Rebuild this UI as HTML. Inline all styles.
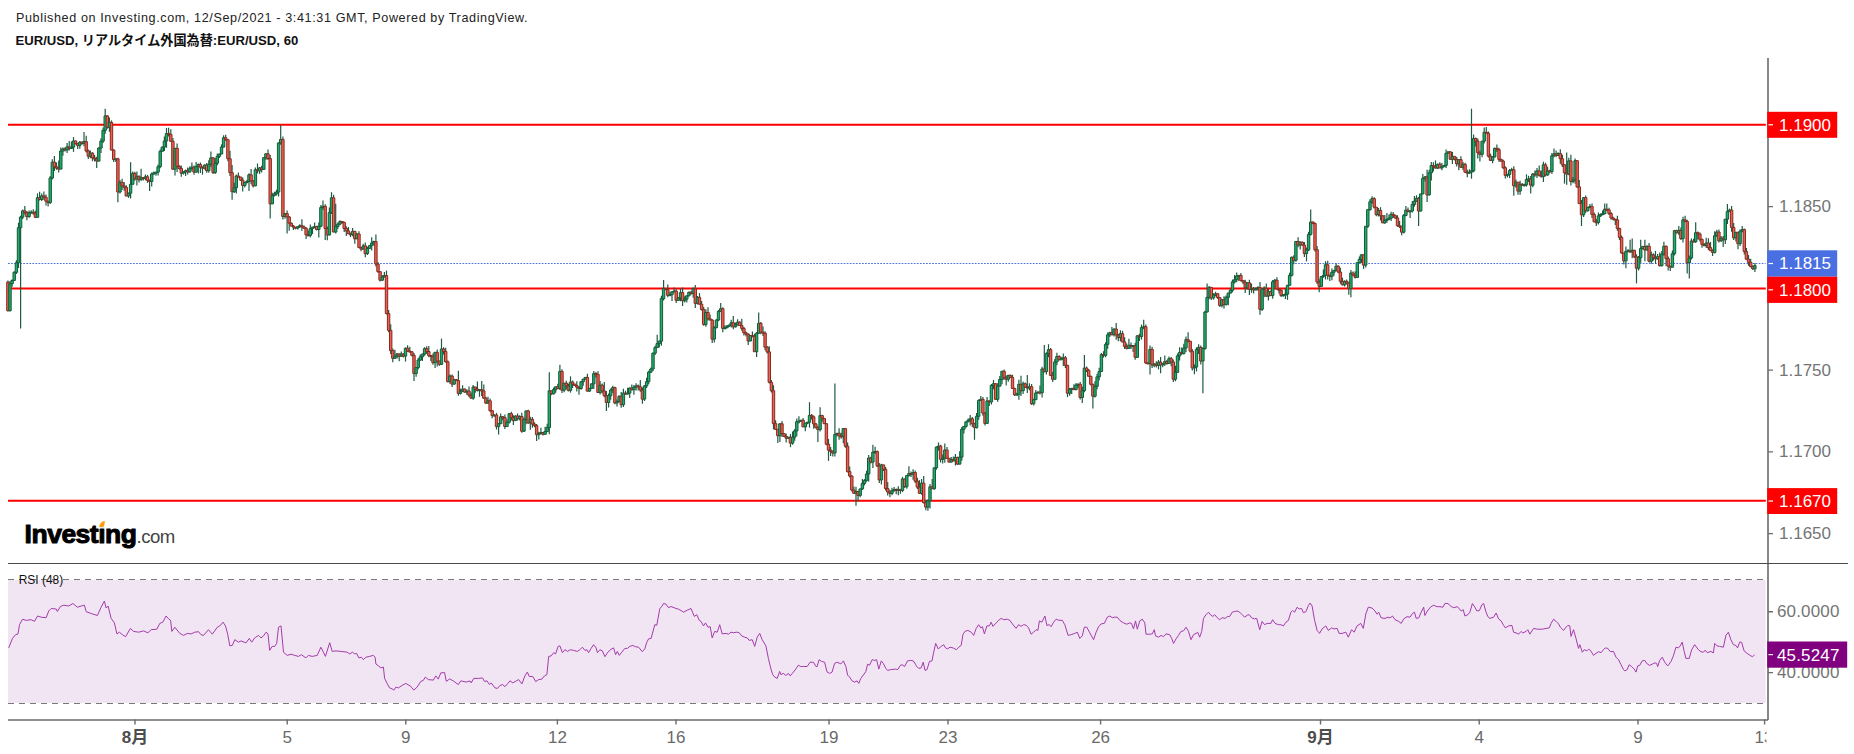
<!DOCTYPE html>
<html lang="ja"><head><meta charset="utf-8"><title>EUR/USD</title>
<style>
html,body{margin:0;padding:0;background:#fff}
body{width:1854px;height:754px;overflow:hidden}
.w{stroke:#1f5b42;stroke-width:1.2;fill:none}
.g{fill:#1bb06d;stroke:#165a3a;stroke-width:1}
.r{fill:#ee6052;stroke:#872a20;stroke-width:1}
.ax{font-family:"Liberation Sans","Noto Sans CJK JP",sans-serif}
</style></head><body>
<svg width="1854" height="754" viewBox="0 0 1854 754" style="display:block">
<rect width="1854" height="754" fill="#fff"/>
<rect x="8" y="580" width="1757.6" height="123" fill="#f2e5f3"/>
<path d="M8 579.5H1765.6M8 703.5H1765.6" stroke="#787878" stroke-width="1" stroke-dasharray="6 5" fill="none"/>
<path d="M8.7 647.9 L12.5 638.4 L15.5 634.7 L18 633.9 L19.5 624.7 L22.5 619.2 L26.2 620.4 L31.2 619.7 L34.5 621.4 L37.5 616 L41.2 617.2 L46.2 617.7 L48.7 611 L51.2 608.5 L56.2 609 L57.4 611.5 L60.4 606.5 L63.7 605.2 L68.7 606 L72.9 603.5 L77.4 607.2 L81.2 606 L84.4 605.2 L86.2 611.7 L91.2 613.5 L97.4 615.5 L101.1 607.2 L104.4 601 L106.1 608 L108.1 606 L111.1 618.4 L114.4 622.9 L116.9 633.9 L119.4 632.2 L122.4 634.7 L125.6 636.7 L130.4 628.4 L133.6 631.4 L138.6 632.2 L143.6 630.9 L147.9 632.9 L151.1 629.7 L156.8 629.2 L159.8 623.4 L162.8 622.2 L166.1 616 L168.6 618.9 L170.6 620.4 L171.8 631.4 L174.8 627.2 L179.8 633.4 L183.6 635.4 L187.3 633.4 L191.1 633.9 L194.8 632.2 L198.6 631.7 L201 634.7 L203.5 635.4 L208.5 629.7 L212.3 634.2 L217.3 627.2 L219.8 625.9 L223 622.2 L225.5 625.9 L227.8 634.7 L229.8 645.9 L232.3 645.4 L234.8 639.7 L238.5 642.2 L241 640.9 L246 642.9 L249.3 638.4 L251.7 642.2 L254.7 637.9 L258.5 635.4 L261 637.9 L263.5 635.9 L266 632.2 L268 633.9 L269.7 650.4 L272.2 646.4 L274.7 646.4 L276.7 643.4 L278.5 627.2 L281 625.9 L283.5 652.2 L287.2 655.4 L291 654.2 L294.7 655.4 L298.5 656.4 L301.4 654.7 L305.9 657.9 L308.4 655.4 L312.2 656.4 L317.2 655.4 L320.9 647.2 L323.4 652.2 L325.4 656.4 L329.7 642.7 L332.2 651.4 L335.9 650.9 L340.9 651.4 L347.2 652.2 L349.7 653.9 L352.6 652.2 L354.6 653.9 L356.6 653.4 L358.9 657.9 L361.4 657.2 L363.4 659.7 L365.9 657.2 L369.6 656.4 L373.4 655.4 L375.1 657.2 L375.9 663.9 L378.4 665.9 L380.9 667.9 L383.4 667.1 L384.6 678.4 L387.1 683.4 L389.6 687.9 L392.1 688.9 L393.9 690.1 L395.9 687.1 L398.4 687.9 L402.1 685.4 L405.8 683.4 L410.8 686.4 L413.8 690.1 L417.1 687.1 L420.8 681.4 L423.3 680.4 L425.3 677.1 L428.3 679.6 L433.3 680.1 L435.8 675.9 L438.3 679.1 L440.8 672.9 L444.6 672.6 L446.3 681.4 L449.6 678.9 L453.3 680.9 L458.3 684.6 L460.8 680.9 L461.2 680.9 L466.2 682.1 L470 680.9 L471.2 682.9 L473.7 678.4 L478.7 678.4 L482.5 677.9 L484.5 681.4 L487 680.9 L489.5 684.6 L491.2 682.9 L495 687.9 L497.5 688.4 L500 685.4 L502.5 684.6 L505 686.6 L507.9 683.4 L509.9 680.9 L512.9 682.9 L516.2 680.9 L518.7 679.6 L521.9 683.9 L524.9 675.9 L527.4 672.1 L529.2 676.4 L532.9 676.6 L535.7 681.6 L538.7 679.6 L541.9 679.1 L544.4 675.9 L546.9 674.6 L548.7 656.4 L551.2 655.9 L553.7 652.7 L555.6 653.9 L558.1 646.4 L559.9 645.9 L562.4 652.7 L564.9 649.7 L567.4 651.4 L570.4 649.7 L573.6 650.4 L577.4 651.4 L579.9 649.7 L582.4 647.2 L584.9 650.4 L586.9 649.7 L588.6 652.7 L591.1 648.4 L593.6 644.7 L596.1 647.9 L597.4 652.7 L599.9 649.7 L602.4 650.9 L604.9 656.7 L607.8 652.2 L611.1 649.2 L613.6 647.9 L615.6 654.7 L617.3 651.4 L619.3 655.4 L621.8 652.2 L624.8 648.4 L627.3 648.4 L629.8 646.4 L632.8 645.4 L635.3 646.7 L638.6 647.2 L642.3 651.7 L644.8 648.9 L646.8 642.2 L648.6 638.9 L651.1 638.4 L654.8 624.7 L656.8 625.2 L659.8 608.5 L661.8 606.7 L663.5 603.5 L666 604.2 L668.5 607.7 L671 606.5 L674.8 608 L678.5 609.2 L681 610.5 L683.5 612.2 L687.3 610.2 L691 608.5 L694.3 616.4 L696.8 614.7 L699.3 620.4 L701 621.4 L703.5 625.9 L705.5 622.9 L708 627.2 L710.2 626.7 L712.2 637.9 L714.7 631.4 L717.2 632.2 L719.7 624.7 L722.2 633.9 L726 633.4 L728.5 634.2 L731 632.2 L733.5 632.7 L736.7 632.2 L739.2 632.7 L741.7 635.9 L744.7 637.2 L747.2 637.9 L749.2 640.4 L752.2 639.7 L754.7 646.4 L757.2 637.2 L759.7 633.4 L762.2 639.7 L765.9 645.9 L768.4 658.4 L770.9 668.9 L772.7 674.6 L774.7 677.1 L777.2 678.4 L779.7 671.4 L780.9 674.6 L783.4 673.4 L785.9 675.4 L788.4 673.4 L790.2 675.9 L793.4 672.1 L795.9 668.9 L798.4 665.2 L800.9 666.6 L803.4 666.4 L807.1 666.6 L810.1 662.2 L813.4 662.2 L815.9 666.4 L817.1 666.6 L819.1 659.7 L821.6 661.4 L824.6 662.2 L827.1 672.1 L829.6 673.4 L832.1 672.1 L834.6 663.4 L837.1 662.2 L840.9 663.9 L843.4 660.9 L845.9 666.6 L847.6 675.1 L849.6 677.1 L852.1 680.9 L854.6 682.1 L857.1 680.9 L858.8 683.4 L860.8 678.4 L863.3 675.1 L865.8 671.6 L867.6 664.2 L869.6 665.2 L872.1 659.7 L874.6 660.4 L876.6 659.7 L878.8 669.1 L881.3 660.9 L883.3 663.4 L885.8 668.4 L887.6 670.4 L890.8 669.6 L895.8 669.1 L897.8 669.6 L900.3 665.4 L902.1 664.7 L904.6 666.6 L907.5 660.9 L910.8 660.4 L913.3 660.9 L915.8 664.7 L916.2 665.9 L918.7 668.4 L921.2 667.9 L923.2 662.2 L925 670.4 L927 669.6 L929.5 661.4 L932 660.9 L933.7 652.2 L935.7 643.4 L938.2 648.9 L941.2 646.4 L943.7 644.7 L945.5 647.9 L947.5 648.9 L950 647.2 L953 647.9 L956.2 649.7 L958.7 647.2 L961.2 645.4 L962.9 634.7 L964.9 631.4 L967.9 630.4 L971.2 632.2 L973.7 635.4 L976.2 628.4 L978.7 624.7 L980.7 627.9 L982.4 626.7 L984.4 633.9 L986.9 625.9 L989.4 625.9 L991.2 622.2 L992.9 626.4 L996.2 622.9 L998.7 620.2 L1001.2 618.4 L1003.7 619.7 L1007.4 619.2 L1009.9 620.4 L1012.4 623.9 L1016.1 628.4 L1018.6 624.7 L1021.1 626.4 L1023.6 624.7 L1026.1 625.2 L1028.6 627.9 L1031.1 634.2 L1033.6 632.2 L1036.1 629.7 L1037.9 630.4 L1039.4 620.9 L1041.9 622.2 L1044.9 616 L1046.9 625.4 L1049.4 624.7 L1051.1 626.7 L1053.6 622.2 L1056.1 619.2 L1058.6 620.2 L1062.3 620.4 L1064.8 624.7 L1068.1 635.4 L1071.1 634.7 L1074.8 633.4 L1077.3 632.2 L1079.8 638.4 L1082.3 635.9 L1084.3 627.2 L1086.8 627.2 L1089.8 632.9 L1093.6 639.7 L1096.1 632.2 L1098.6 626.7 L1101.1 623.9 L1104.3 623.4 L1107.3 617.2 L1109.8 616 L1112.3 617.7 L1114.8 617.2 L1117.3 617.2 L1119.8 620.4 L1123.5 622.9 L1126.8 624.2 L1129.8 622.9 L1131.5 623.4 L1133.5 628.9 L1135.5 620.9 L1137.3 629.2 L1139.8 620.9 L1142.3 619.2 L1144.8 622.9 L1146 634.2 L1149.8 634.2 L1152.3 633.9 L1154.3 629.7 L1155.5 635.9 L1158.5 637.2 L1161 635.4 L1163.5 636.7 L1166 633.9 L1169.7 634.7 L1171.7 638.4 L1173.5 643.4 L1176 638.9 L1178.5 635.4 L1181 631.4 L1183.5 630.9 L1186 627.2 L1188.5 631.4 L1191 639.7 L1193.5 634.7 L1196 633.4 L1197.7 632.2 L1199.7 637.2 L1201.7 631.4 L1203.5 618.4 L1206 614.7 L1208.5 612.2 L1210.9 615.2 L1212.9 616.4 L1214.7 614.7 L1217.2 617.7 L1219.7 619.7 L1222.2 617.7 L1225.2 618.4 L1227.2 616.7 L1229.7 616.4 L1232.2 612.2 L1234.7 611.5 L1237.2 611 L1239.7 612.2 L1242.2 614.7 L1244.7 617.2 L1247.2 615.2 L1249.2 614.7 L1251.7 617.9 L1254.2 618.9 L1256.7 618.4 L1259.7 629.7 L1262.1 621.4 L1264.6 624.7 L1267.1 623.4 L1270.9 623.4 L1272.6 619.7 L1275.1 623.4 L1278.4 624.7 L1280.9 624.7 L1283.4 625.9 L1285.9 622.2 L1288.4 620.4 L1290.9 612.2 L1292.6 610.5 L1294.6 612.2 L1297.1 607.2 L1299.1 609 L1301.6 608.5 L1303.4 612.7 L1305.9 611.7 L1308.4 605.5 L1310.1 603 L1312.1 606 L1314.6 620.4 L1317.1 630.4 L1319.6 633.4 L1322.1 628.9 L1325.8 625.9 L1328.3 630.4 L1331.6 627.9 L1334.1 628.9 L1337.1 628.4 L1339.1 633.4 L1342.1 633.4 L1345.8 632.2 L1348.3 637.2 L1351.6 629.7 L1354.1 632.2 L1357.1 625.9 L1360.8 623.4 L1363.3 628.4 L1365.8 614 L1368.3 607.2 L1372 608 L1375 611 L1377 614.2 L1378.7 612.2 L1381.2 617.9 L1385 618.4 L1388 617.2 L1390 617.9 L1392.5 616 L1395 619.7 L1398.7 621.4 L1401.2 623.4 L1403.7 618.9 L1407 616.7 L1410 617.2 L1412.5 613.5 L1414.5 612.2 L1416.2 618.4 L1418.7 617.9 L1421.2 612.2 L1423.7 607.2 L1424.9 615.5 L1427.4 611 L1430.4 607.2 L1433.7 605.2 L1436.9 606.7 L1439.9 606.7 L1442.9 607.2 L1444.9 603.5 L1447.9 603.5 L1451.2 606.5 L1453.7 607.7 L1457.4 606.7 L1461.2 611 L1463.2 609.7 L1464.9 616 L1467.9 614.7 L1469.9 612.2 L1472.4 603.5 L1474.9 607.2 L1476.9 611 L1479.4 610.5 L1481.9 604.7 L1483.6 603.5 L1486.1 612.2 L1487.9 616.7 L1489.9 618.4 L1493.6 617.2 L1496.1 613 L1498.6 618.9 L1501.1 620.9 L1503.6 625.4 L1505.4 627.9 L1508.6 625.9 L1511.9 625.4 L1513.6 632.2 L1516.1 632.9 L1518.6 634.2 L1521.1 631.4 L1522.8 632.9 L1526.1 631.4 L1527.8 629.7 L1529.8 634.2 L1533.6 628.4 L1537.3 629.2 L1542.3 629.2 L1546.1 628.4 L1549.3 627.9 L1551.1 623.4 L1553.6 619.2 L1556.1 621.4 L1558.6 623.9 L1560.3 627.2 L1563.6 630.4 L1566 627.2 L1567.8 625.4 L1569.8 625.9 L1571 636.4 L1573.5 629.7 L1576 638.4 L1578.5 648.4 L1579.8 644.7 L1582.3 652.2 L1584.3 649.7 L1586.8 650.9 L1588.5 649.2 L1590.5 650.4 L1593.5 655.4 L1596 653.4 L1598.5 651.7 L1601 652.7 L1603.5 649.7 L1605.3 647.9 L1607.8 648.4 L1610.3 651.7 L1613.5 651.4 L1616 657.2 L1618.5 659.7 L1621 664.7 L1623.5 669.6 L1624.7 670.9 L1627.2 669.6 L1629.2 664.7 L1631.7 666.6 L1634.2 669.1 L1636 672.1 L1637.7 665.9 L1639.7 665.4 L1642.2 660.9 L1644.7 660.4 L1647.2 663.9 L1649.7 665.4 L1652.2 664.2 L1654.7 662.9 L1656.7 663.4 L1657.7 666.6 L1659.7 660.4 L1662.2 657.2 L1664.7 662.2 L1667.7 665.9 L1670.9 661.7 L1673.4 655.9 L1675.9 647.2 L1678.4 647.9 L1680.2 645.9 L1682.2 642.2 L1684.2 651.4 L1685.9 658.4 L1689.2 658.4 L1691.7 649.7 L1694.7 644.7 L1698.4 649.7 L1700.9 651.7 L1703.4 652.2 L1705.2 650.2 L1707.2 652.7 L1710.9 651.4 L1713.4 652.9 L1714.7 643.4 L1717.1 645.9 L1719.6 646.4 L1723.4 647.2 L1725.9 635.4 L1728.4 632.2 L1730.9 639.7 L1733.4 644.7 L1735.9 645.4 L1737.6 647.9 L1739.6 642.2 L1741.6 642.2 L1744.1 650.9 L1747.1 653.4 L1750.9 655.9 L1752.6 656.7 L1754.6 654.7" fill="none" stroke="#a23cab" stroke-width="1" stroke-linejoin="round"/>
<path d="M8 263.5H1765.6" stroke="#4a6fe3" stroke-width="1.1" stroke-dasharray="1.7 1.35" fill="none"/>
<path d="M8 124.8H1765.8M8 288.5H1765.8M8 500.7H1765.8" stroke="#ff0000" stroke-width="2" fill="none"/>
<g><path class="w" d="M7.9 280.5V311.4"/><path class="r" d="M6.7 282h2.4V310.7h-2.4z"/><path class="w" d="M10 280.9V311.4"/><path class="g" d="M8.8 283.7h2.4V310.7h-2.4z"/><path class="w" d="M12.1 279.2V286.8"/><path class="g" d="M10.9 280.5h2.4V283.7h-2.4z"/><path class="w" d="M14.2 271.2V281"/><path class="g" d="M13 272.3h2.4V280.5h-2.4z"/><path class="w" d="M16.4 260.2V273.9"/><path class="g" d="M15.2 262.8h2.4V272.3h-2.4z"/><path class="w" d="M18.5 222.7V268"/><path class="g" d="M17.3 227.7h2.4V262.8h-2.4z"/><path class="w" d="M20.6 215.7V328.4"/><path class="g" d="M19.4 217.1h2.4V227.7h-2.4z"/><path class="w" d="M22.7 209.4V219"/><path class="g" d="M21.5 210.9h2.4V217.1h-2.4z"/><path class="w" d="M24.8 206V214.5"/><path class="r" d="M23.6 210.9h2.4V212.6h-2.4z"/><path class="w" d="M26.9 210.9V220.2"/><path class="r" d="M25.7 212.6h2.4V216.6h-2.4z"/><path class="w" d="M29.1 210.6V217.7"/><path class="g" d="M27.9 212.8h2.4V216.6h-2.4z"/><path class="w" d="M31.2 210.2V213.5"/><path class="g" d="M30 212.1h2.4V213.1h-2.4z"/><path class="w" d="M33.3 209.2V214.7"/><path class="r" d="M32.1 212.1h2.4V213.1h-2.4z"/><path class="w" d="M35.4 210.7V218"/><path class="r" d="M34.2 213.1h2.4V217.3h-2.4z"/><path class="w" d="M37.5 193.3V217.4"/><path class="g" d="M36.3 197.7h2.4V217.3h-2.4z"/><path class="w" d="M39.6 191.7V200.5"/><path class="r" d="M38.4 197.7h2.4V199.5h-2.4z"/><path class="w" d="M41.7 193.4V201"/><path class="g" d="M40.5 195.9h2.4V199.5h-2.4z"/><path class="w" d="M43.9 191.5V199.7"/><path class="r" d="M42.7 195.9h2.4V197.2h-2.4z"/><path class="w" d="M46 194.4V205.5"/><path class="r" d="M44.8 197.2h2.4V201.2h-2.4z"/><path class="w" d="M48.1 200.9V206.5"/><path class="r" d="M46.9 201.2h2.4V202.6h-2.4z"/><path class="w" d="M50.2 176.1V204"/><path class="g" d="M49 178h2.4V202.6h-2.4z"/><path class="w" d="M52.3 159.3V179.6"/><path class="g" d="M51.1 162.2h2.4V178h-2.4z"/><path class="w" d="M54.4 156.1V171.1"/><path class="r" d="M53.2 162.2h2.4V166.8h-2.4z"/><path class="w" d="M56.5 162.4V169.8"/><path class="r" d="M55.3 166.8h2.4V168.1h-2.4z"/><path class="w" d="M58.7 160.6V172.4"/><path class="r" d="M57.5 168.1h2.4V169.1h-2.4z"/><path class="w" d="M60.8 147.6V169.5"/><path class="g" d="M59.6 151h2.4V169h-2.4z"/><path class="w" d="M62.9 147.6V155.7"/><path class="g" d="M61.7 148.9h2.4V151h-2.4z"/><path class="w" d="M65 147.3V151.6"/><path class="r" d="M63.8 148.9h2.4V150h-2.4z"/><path class="w" d="M67.1 143.1V152.9"/><path class="g" d="M65.9 146.9h2.4V150h-2.4z"/><path class="w" d="M69.2 141V150.4"/><path class="r" d="M68 146.9h2.4V148.5h-2.4z"/><path class="w" d="M71.4 141.6V149.1"/><path class="g" d="M70.2 147.1h2.4V148.5h-2.4z"/><path class="w" d="M73.5 137.1V151.9"/><path class="g" d="M72.3 141h2.4V147.1h-2.4z"/><path class="w" d="M75.6 140.6V144.6"/><path class="r" d="M74.4 141h2.4V143.6h-2.4z"/><path class="w" d="M77.7 143.2V149"/><path class="r" d="M76.5 143.6h2.4V145.6h-2.4z"/><path class="w" d="M79.8 140.9V148.7"/><path class="g" d="M78.6 142.2h2.4V145.6h-2.4z"/><path class="w" d="M81.9 141.5V144.8"/><path class="r" d="M80.7 142.2h2.4V143.4h-2.4z"/><path class="w" d="M84 131.9V146.2"/><path class="g" d="M82.8 141.6h2.4V143.4h-2.4z"/><path class="w" d="M86.2 135.8V152.5"/><path class="r" d="M85 141.6h2.4V150.9h-2.4z"/><path class="w" d="M88.3 149.5V159"/><path class="r" d="M87.1 150.9h2.4V156.2h-2.4z"/><path class="w" d="M90.4 150.5V158.3"/><path class="g" d="M89.2 153.2h2.4V156.2h-2.4z"/><path class="w" d="M92.5 152.1V161.2"/><path class="r" d="M91.3 153.2h2.4V158h-2.4z"/><path class="w" d="M94.6 154.9V161.6"/><path class="r" d="M93.4 158h2.4V159h-2.4z"/><path class="w" d="M96.7 156.7V168.1"/><path class="r" d="M95.5 159h2.4V161h-2.4z"/><path class="w" d="M98.8 147.2V161.7"/><path class="g" d="M97.6 148h2.4V161h-2.4z"/><path class="w" d="M101 138.3V153"/><path class="g" d="M99.8 141.1h2.4V148h-2.4z"/><path class="w" d="M103.1 127.6V143.1"/><path class="g" d="M101.9 130.4h2.4V141.1h-2.4z"/><path class="w" d="M105.2 108.7V133.8"/><path class="g" d="M104 115.9h2.4V130.4h-2.4z"/><path class="w" d="M107.3 115.3V128.8"/><path class="r" d="M106.1 115.9h2.4V127.3h-2.4z"/><path class="w" d="M109.4 117.5V131.8"/><path class="g" d="M108.2 122.4h2.4V127.3h-2.4z"/><path class="w" d="M111.5 120.4V150.3"/><path class="r" d="M110.3 122.4h2.4V150.1h-2.4z"/><path class="w" d="M113.7 149.3V162"/><path class="r" d="M112.5 150.1h2.4V159.6h-2.4z"/><path class="w" d="M115.8 158.7V162.1"/><path class="g" d="M114.6 158.8h2.4V159.8h-2.4z"/><path class="w" d="M117.9 157.8V202.2"/><path class="r" d="M116.7 158.8h2.4V192h-2.4z"/><path class="w" d="M120 180.1V193.5"/><path class="g" d="M118.8 182.4h2.4V192h-2.4z"/><path class="w" d="M122.1 178.8V190.1"/><path class="r" d="M120.9 182.4h2.4V185.9h-2.4z"/><path class="w" d="M124.2 181.9V190.7"/><path class="r" d="M123 185.9h2.4V187.3h-2.4z"/><path class="w" d="M126.3 185.3V196.3"/><path class="r" d="M125.1 187.3h2.4V196h-2.4z"/><path class="w" d="M128.5 192.6V197.9"/><path class="g" d="M127.3 193.2h2.4V196h-2.4z"/><path class="w" d="M130.6 162.3V198.5"/><path class="g" d="M129.4 184.3h2.4V193.2h-2.4z"/><path class="w" d="M132.7 171.5V184.6"/><path class="g" d="M131.5 173.4h2.4V184.3h-2.4z"/><path class="w" d="M134.8 171.7V180.7"/><path class="r" d="M133.6 173.4h2.4V179h-2.4z"/><path class="w" d="M136.9 171.5V185.6"/><path class="g" d="M135.7 176.3h2.4V179h-2.4z"/><path class="w" d="M139 175.6V182.4"/><path class="r" d="M137.8 176.3h2.4V179.7h-2.4z"/><path class="w" d="M141.1 168.8V180.7"/><path class="g" d="M139.9 177.5h2.4V179.7h-2.4z"/><path class="w" d="M143.3 177.4V180.5"/><path class="r" d="M142.1 177.5h2.4V178.5h-2.4z"/><path class="w" d="M145.4 174.6V180.2"/><path class="g" d="M144.2 176.8h2.4V178.2h-2.4z"/><path class="w" d="M147.5 174.8V182.9"/><path class="r" d="M146.3 176.8h2.4V180.4h-2.4z"/><path class="w" d="M149.6 179.6V191"/><path class="r" d="M148.4 180.4h2.4V181.5h-2.4z"/><path class="w" d="M151.7 172.4V186.4"/><path class="g" d="M150.5 174h2.4V181.5h-2.4z"/><path class="w" d="M153.8 171.4V174.9"/><path class="g" d="M152.6 172.9h2.4V174h-2.4z"/><path class="w" d="M156 172V175.7"/><path class="g" d="M154.8 172.1h2.4V173.1h-2.4z"/><path class="w" d="M158.1 164.4V175.5"/><path class="g" d="M156.9 166.7h2.4V172.1h-2.4z"/><path class="w" d="M160.2 149.4V168.3"/><path class="g" d="M159 151.3h2.4V166.7h-2.4z"/><path class="w" d="M162.3 146.5V151.5"/><path class="g" d="M161.1 147.1h2.4V151.3h-2.4z"/><path class="w" d="M164.4 136.4V151.1"/><path class="g" d="M163.2 141h2.4V147.1h-2.4z"/><path class="w" d="M166.5 127.9V147.7"/><path class="g" d="M165.3 133.5h2.4V141h-2.4z"/><path class="w" d="M168.6 127.8V136.5"/><path class="r" d="M167.4 133.5h2.4V134.5h-2.4z"/><path class="w" d="M170.8 129.3V141.3"/><path class="r" d="M169.6 134.4h2.4V141.3h-2.4z"/><path class="w" d="M172.9 137.9V169.7"/><path class="r" d="M171.7 141.3h2.4V169.2h-2.4z"/><path class="w" d="M175 147.9V175.6"/><path class="g" d="M173.8 148.3h2.4V169.2h-2.4z"/><path class="w" d="M177.1 143.6V171.9"/><path class="r" d="M175.9 148.3h2.4V166.3h-2.4z"/><path class="w" d="M179.2 165.1V169.5"/><path class="r" d="M178 166.3h2.4V168.4h-2.4z"/><path class="w" d="M181.3 165.4V176.8"/><path class="r" d="M180.1 168.4h2.4V173.2h-2.4z"/><path class="w" d="M183.4 170.9V174.6"/><path class="g" d="M182.2 171.8h2.4V173.2h-2.4z"/><path class="w" d="M185.6 169.6V176"/><path class="g" d="M184.4 170.7h2.4V171.8h-2.4z"/><path class="w" d="M187.7 167.6V174.4"/><path class="r" d="M186.5 170.7h2.4V172h-2.4z"/><path class="w" d="M189.8 166.2V172.5"/><path class="g" d="M188.6 168.6h2.4V172h-2.4z"/><path class="w" d="M191.9 162.5V170.5"/><path class="g" d="M190.7 167.2h2.4V168.6h-2.4z"/><path class="w" d="M194 165.5V174.8"/><path class="r" d="M192.8 167.2h2.4V172.1h-2.4z"/><path class="w" d="M196.1 161.9V172.4"/><path class="g" d="M194.9 166.5h2.4V172.1h-2.4z"/><path class="w" d="M198.3 163.4V173.6"/><path class="g" d="M197.1 164.5h2.4V166.5h-2.4z"/><path class="w" d="M200.4 162.6V173"/><path class="r" d="M199.2 164.5h2.4V167.2h-2.4z"/><path class="w" d="M202.5 166.4V174.7"/><path class="r" d="M201.3 167.2h2.4V168.2h-2.4z"/><path class="w" d="M204.6 164.2V169.4"/><path class="g" d="M203.4 165.1h2.4V168.1h-2.4z"/><path class="w" d="M206.7 162.9V172.7"/><path class="r" d="M205.5 165.1h2.4V170.7h-2.4z"/><path class="w" d="M208.8 160.3V172.7"/><path class="g" d="M207.6 164.3h2.4V170.7h-2.4z"/><path class="w" d="M210.9 151.6V167"/><path class="g" d="M209.7 157.9h2.4V164.3h-2.4z"/><path class="w" d="M213.1 157V173.9"/><path class="r" d="M211.9 157.9h2.4V172.5h-2.4z"/><path class="w" d="M215.2 158V173.9"/><path class="g" d="M214 163.2h2.4V172.5h-2.4z"/><path class="w" d="M217.3 153.5V165.3"/><path class="g" d="M216.1 156.3h2.4V163.2h-2.4z"/><path class="w" d="M219.4 153.7V158"/><path class="g" d="M218.2 154h2.4V156.3h-2.4z"/><path class="w" d="M221.5 144.4V154.3"/><path class="g" d="M220.3 147.1h2.4V154h-2.4z"/><path class="w" d="M223.6 135.3V147.2"/><path class="g" d="M222.4 137.7h2.4V147.1h-2.4z"/><path class="w" d="M225.7 134.7V140.8"/><path class="r" d="M224.5 137.7h2.4V139.7h-2.4z"/><path class="w" d="M227.9 139.4V161.3"/><path class="r" d="M226.7 139.7h2.4V158.7h-2.4z"/><path class="w" d="M230 150.7V176.1"/><path class="r" d="M228.8 158.7h2.4V172.6h-2.4z"/><path class="w" d="M232.1 164.9V199.8"/><path class="r" d="M230.9 172.6h2.4V191.7h-2.4z"/><path class="w" d="M234.2 182.8V193"/><path class="g" d="M233 187.8h2.4V191.7h-2.4z"/><path class="w" d="M236.3 174.4V193.6"/><path class="g" d="M235.1 176h2.4V187.8h-2.4z"/><path class="w" d="M238.4 172.5V177.8"/><path class="r" d="M237.2 176h2.4V177h-2.4z"/><path class="w" d="M240.6 176.9V181"/><path class="r" d="M239.4 177h2.4V180.1h-2.4z"/><path class="w" d="M242.7 177.5V191.4"/><path class="r" d="M241.5 180.1h2.4V185.5h-2.4z"/><path class="w" d="M244.8 181.7V187.5"/><path class="g" d="M243.6 182.3h2.4V185.5h-2.4z"/><path class="w" d="M246.9 179.8V183.6"/><path class="g" d="M245.7 181.5h2.4V182.5h-2.4z"/><path class="w" d="M249 173.2V191.1"/><path class="g" d="M247.8 174.8h2.4V181.5h-2.4z"/><path class="w" d="M251.1 169V184.2"/><path class="r" d="M249.9 174.8h2.4V180.9h-2.4z"/><path class="w" d="M253.2 180.3V187.6"/><path class="r" d="M252 180.9h2.4V185.8h-2.4z"/><path class="w" d="M255.4 167.5V186.2"/><path class="g" d="M254.2 169.8h2.4V185.8h-2.4z"/><path class="w" d="M257.5 163.5V173.4"/><path class="r" d="M256.3 169.8h2.4V170.9h-2.4z"/><path class="w" d="M259.6 167V174"/><path class="g" d="M258.4 167.9h2.4V170.9h-2.4z"/><path class="w" d="M261.7 165.8V172.6"/><path class="r" d="M260.5 167.9h2.4V169.4h-2.4z"/><path class="w" d="M263.8 157.2V169.5"/><path class="g" d="M262.6 157.7h2.4V169.4h-2.4z"/><path class="w" d="M265.9 153.5V160"/><path class="g" d="M264.7 153.8h2.4V157.7h-2.4z"/><path class="w" d="M268 149.6V160"/><path class="r" d="M266.8 153.8h2.4V158.5h-2.4z"/><path class="w" d="M270.2 155V218.5"/><path class="r" d="M269 158.5h2.4V203.8h-2.4z"/><path class="w" d="M272.3 192.8V204.3"/><path class="g" d="M271.1 195.4h2.4V203.8h-2.4z"/><path class="w" d="M274.4 191.8V196.5"/><path class="g" d="M273.2 193.9h2.4V195.4h-2.4z"/><path class="w" d="M276.5 189.7V195.5"/><path class="g" d="M275.3 192h2.4V193.9h-2.4z"/><path class="w" d="M278.6 142.4V196.5"/><path class="g" d="M277.4 142.9h2.4V192h-2.4z"/><path class="w" d="M280.7 124.9V144.7"/><path class="g" d="M279.5 139.4h2.4V142.9h-2.4z"/><path class="w" d="M282.9 136.5V219.6"/><path class="r" d="M281.7 139.4h2.4V216.5h-2.4z"/><path class="w" d="M285 213.1V218.7"/><path class="g" d="M283.8 213.6h2.4V216.5h-2.4z"/><path class="w" d="M287.1 210.4V233.6"/><path class="r" d="M285.9 213.6h2.4V216.9h-2.4z"/><path class="w" d="M289.2 216.2V230.8"/><path class="r" d="M288 216.9h2.4V223.2h-2.4z"/><path class="w" d="M291.3 222.5V226.3"/><path class="r" d="M290.1 223.2h2.4V226h-2.4z"/><path class="w" d="M293.4 225V229.9"/><path class="r" d="M292.2 226h2.4V227.2h-2.4z"/><path class="w" d="M295.5 227.2V229.4"/><path class="r" d="M294.3 227.2h2.4V228.2h-2.4z"/><path class="w" d="M297.7 226.5V229.4"/><path class="g" d="M296.5 226.7h2.4V228.1h-2.4z"/><path class="w" d="M299.8 224.2V228"/><path class="g" d="M298.6 225.7h2.4V226.7h-2.4z"/><path class="w" d="M301.9 219.2V230.7"/><path class="r" d="M300.7 225.7h2.4V226.9h-2.4z"/><path class="w" d="M304 225.5V228.9"/><path class="r" d="M302.8 226.9h2.4V228.2h-2.4z"/><path class="w" d="M306.1 227.3V238.9"/><path class="r" d="M304.9 228.2h2.4V234.8h-2.4z"/><path class="w" d="M308.2 230.4V236.3"/><path class="r" d="M307 234.8h2.4V235.8h-2.4z"/><path class="w" d="M310.3 224.4V237.5"/><path class="g" d="M309.1 228.6h2.4V235.5h-2.4z"/><path class="w" d="M312.5 226.9V234.1"/><path class="g" d="M311.3 227.2h2.4V228.6h-2.4z"/><path class="w" d="M314.6 222.4V228.3"/><path class="g" d="M313.4 226.5h2.4V227.5h-2.4z"/><path class="w" d="M316.7 225.7V230.4"/><path class="r" d="M315.5 226.5h2.4V229.5h-2.4z"/><path class="w" d="M318.8 222.6V237.4"/><path class="g" d="M317.6 226.2h2.4V229.5h-2.4z"/><path class="w" d="M320.9 205.1V227.3"/><path class="g" d="M319.7 207.5h2.4V226.2h-2.4z"/><path class="w" d="M323 200.5V210.1"/><path class="g" d="M321.8 206.3h2.4V207.5h-2.4z"/><path class="w" d="M325.2 204.3V239.9"/><path class="r" d="M324 206.3h2.4V228.5h-2.4z"/><path class="w" d="M327.3 226.4V240.3"/><path class="r" d="M326.1 228.5h2.4V234.9h-2.4z"/><path class="w" d="M329.4 207.6V235.4"/><path class="g" d="M328.2 212.6h2.4V234.9h-2.4z"/><path class="w" d="M331.5 192.2V214"/><path class="g" d="M330.3 197.8h2.4V212.6h-2.4z"/><path class="w" d="M333.6 194.7V232.2"/><path class="r" d="M332.4 197.8h2.4V232h-2.4z"/><path class="w" d="M335.7 203.7V233.5"/><path class="g" d="M334.5 226.5h2.4V232h-2.4z"/><path class="w" d="M337.8 222.5V229.1"/><path class="g" d="M336.6 224.1h2.4V226.5h-2.4z"/><path class="w" d="M340 220.3V225.2"/><path class="g" d="M338.8 221.5h2.4V224.1h-2.4z"/><path class="w" d="M342.1 221.1V223.7"/><path class="r" d="M340.9 221.5h2.4V222.5h-2.4z"/><path class="w" d="M344.2 221.7V231.9"/><path class="r" d="M343 222.4h2.4V228.5h-2.4z"/><path class="w" d="M346.3 226.2V235.9"/><path class="r" d="M345.1 228.5h2.4V230.9h-2.4z"/><path class="w" d="M348.4 227.1V234"/><path class="r" d="M347.2 230.9h2.4V233.8h-2.4z"/><path class="w" d="M350.5 232.6V237.1"/><path class="r" d="M349.3 233.8h2.4V234.8h-2.4z"/><path class="w" d="M352.6 228.1V236.3"/><path class="g" d="M351.4 231.3h2.4V234.7h-2.4z"/><path class="w" d="M354.8 231V243.8"/><path class="r" d="M353.6 231.3h2.4V238.8h-2.4z"/><path class="w" d="M356.9 232.9V239.3"/><path class="g" d="M355.7 234h2.4V238.8h-2.4z"/><path class="w" d="M359 231.3V247.8"/><path class="r" d="M357.8 234h2.4V247.6h-2.4z"/><path class="w" d="M361.1 247V251.2"/><path class="r" d="M359.9 247.6h2.4V249.1h-2.4z"/><path class="w" d="M363.2 243.8V249.4"/><path class="g" d="M362 245.9h2.4V249.1h-2.4z"/><path class="w" d="M365.3 242.6V257.3"/><path class="r" d="M364.1 245.9h2.4V253.6h-2.4z"/><path class="w" d="M367.4 246.8V255"/><path class="g" d="M366.2 248.4h2.4V253.6h-2.4z"/><path class="w" d="M369.6 245.5V248.5"/><path class="g" d="M368.4 245.6h2.4V248.4h-2.4z"/><path class="w" d="M371.7 237.3V250.6"/><path class="g" d="M370.5 243h2.4V245.6h-2.4z"/><path class="w" d="M373.8 240.8V245.8"/><path class="g" d="M372.6 241.5h2.4V243h-2.4z"/><path class="w" d="M375.9 234.6V266.5"/><path class="r" d="M374.7 241.5h2.4V264.1h-2.4z"/><path class="w" d="M378 262V272.8"/><path class="r" d="M376.8 264.1h2.4V271.7h-2.4z"/><path class="w" d="M380.1 271.3V281.5"/><path class="r" d="M378.9 271.7h2.4V280.2h-2.4z"/><path class="w" d="M382.3 274.9V281.1"/><path class="g" d="M381.1 276.9h2.4V280.2h-2.4z"/><path class="w" d="M384.4 272V277.6"/><path class="g" d="M383.2 275.6h2.4V276.9h-2.4z"/><path class="w" d="M386.5 270.6V314.5"/><path class="r" d="M385.3 275.6h2.4V313.5h-2.4z"/><path class="w" d="M388.6 309.9V332.2"/><path class="r" d="M387.4 313.5h2.4V330.3h-2.4z"/><path class="w" d="M390.7 324.2V354"/><path class="r" d="M389.5 330.3h2.4V350.6h-2.4z"/><path class="w" d="M392.8 348.4V362.2"/><path class="r" d="M391.6 350.6h2.4V358.3h-2.4z"/><path class="w" d="M394.9 349.7V358.9"/><path class="g" d="M393.7 356.3h2.4V358.3h-2.4z"/><path class="w" d="M397.1 353.3V358.4"/><path class="g" d="M395.9 353.9h2.4V356.3h-2.4z"/><path class="w" d="M399.2 353.7V361.2"/><path class="r" d="M398 353.9h2.4V356.3h-2.4z"/><path class="w" d="M401.3 351.5V356.5"/><path class="g" d="M400.1 354h2.4V356.3h-2.4z"/><path class="w" d="M403.4 353.3V357.4"/><path class="r" d="M402.2 354h2.4V356.1h-2.4z"/><path class="w" d="M405.5 347.4V361.6"/><path class="g" d="M404.3 348.3h2.4V356.1h-2.4z"/><path class="w" d="M407.6 345.2V352.1"/><path class="r" d="M406.4 348.3h2.4V351.1h-2.4z"/><path class="w" d="M409.8 346.7V352.3"/><path class="r" d="M408.6 351.1h2.4V352.1h-2.4z"/><path class="w" d="M411.9 351.1V356.4"/><path class="r" d="M410.7 351.8h2.4V355.3h-2.4z"/><path class="w" d="M414 353V381"/><path class="r" d="M412.8 355.3h2.4V373.6h-2.4z"/><path class="w" d="M416.1 367.6V376.7"/><path class="g" d="M414.9 367.6h2.4V373.6h-2.4z"/><path class="w" d="M418.2 358.1V369.5"/><path class="g" d="M417 360h2.4V367.6h-2.4z"/><path class="w" d="M420.3 354.5V360.9"/><path class="g" d="M419.1 356.8h2.4V360h-2.4z"/><path class="w" d="M422.4 353.8V361"/><path class="g" d="M421.2 354.1h2.4V356.8h-2.4z"/><path class="w" d="M424.6 347.2V355.7"/><path class="g" d="M423.4 348.6h2.4V354.1h-2.4z"/><path class="w" d="M426.7 346.3V354.1"/><path class="r" d="M425.5 348.6h2.4V351.5h-2.4z"/><path class="w" d="M428.8 345.9V357.2"/><path class="r" d="M427.6 351.5h2.4V355.5h-2.4z"/><path class="w" d="M430.9 355.1V360.9"/><path class="r" d="M429.7 355.5h2.4V356.5h-2.4z"/><path class="w" d="M433 353.6V364.7"/><path class="r" d="M431.8 356.2h2.4V362.7h-2.4z"/><path class="w" d="M435.1 352.3V368"/><path class="g" d="M433.9 352.3h2.4V362.7h-2.4z"/><path class="w" d="M437.2 349.6V366.4"/><path class="r" d="M436 352.3h2.4V361.1h-2.4z"/><path class="w" d="M439.4 360.7V365.7"/><path class="r" d="M438.2 361.1h2.4V364.4h-2.4z"/><path class="w" d="M441.5 338.6V365"/><path class="g" d="M440.3 349h2.4V364.4h-2.4z"/><path class="w" d="M443.6 347.3V354.6"/><path class="r" d="M442.4 349h2.4V351.5h-2.4z"/><path class="w" d="M445.7 347.8V362.8"/><path class="r" d="M444.5 351.5h2.4V361.8h-2.4z"/><path class="w" d="M447.8 360.5V382.4"/><path class="r" d="M446.6 361.8h2.4V381.6h-2.4z"/><path class="w" d="M449.9 374.4V383.7"/><path class="g" d="M448.7 376h2.4V381.6h-2.4z"/><path class="w" d="M452.1 374.4V387.1"/><path class="r" d="M450.9 376h2.4V384.1h-2.4z"/><path class="w" d="M454.2 378.8V384.8"/><path class="g" d="M453 379.7h2.4V384.1h-2.4z"/><path class="w" d="M456.3 379.1V380.6"/><path class="r" d="M455.1 379.7h2.4V380.7h-2.4z"/><path class="w" d="M458.4 370.8V395.8"/><path class="r" d="M457.2 380.6h2.4V393.4h-2.4z"/><path class="w" d="M460.5 388.7V394.6"/><path class="g" d="M459.3 391.3h2.4V393.4h-2.4z"/><path class="w" d="M462.6 385.3V391.9"/><path class="g" d="M461.4 389.1h2.4V391.3h-2.4z"/><path class="w" d="M464.7 388.5V392.7"/><path class="r" d="M463.5 389.1h2.4V392.1h-2.4z"/><path class="w" d="M466.9 389.6V394.9"/><path class="g" d="M465.7 391h2.4V392.1h-2.4z"/><path class="w" d="M469 386.6V397.1"/><path class="r" d="M467.8 391h2.4V395.2h-2.4z"/><path class="w" d="M471.1 392.6V398.7"/><path class="r" d="M469.9 395.2h2.4V398.1h-2.4z"/><path class="w" d="M473.2 384.9V399.8"/><path class="g" d="M472 387h2.4V398.1h-2.4z"/><path class="w" d="M475.3 386.8V392.7"/><path class="r" d="M474.1 387h2.4V389.1h-2.4z"/><path class="w" d="M477.4 381.5V391.6"/><path class="r" d="M476.2 389.1h2.4V390.5h-2.4z"/><path class="w" d="M479.5 389.1V396.8"/><path class="g" d="M478.3 389.7h2.4V390.7h-2.4z"/><path class="w" d="M481.7 381V395.9"/><path class="r" d="M480.5 389.7h2.4V390.9h-2.4z"/><path class="w" d="M483.8 384.4V398.8"/><path class="r" d="M482.6 390.9h2.4V398.2h-2.4z"/><path class="w" d="M485.9 396.8V404"/><path class="r" d="M484.7 398.2h2.4V403.1h-2.4z"/><path class="w" d="M488 396.8V403.7"/><path class="g" d="M486.8 400.8h2.4V403.1h-2.4z"/><path class="w" d="M490.1 398.4V412"/><path class="r" d="M488.9 400.8h2.4V410.7h-2.4z"/><path class="w" d="M492.2 410.1V418.2"/><path class="r" d="M491 410.7h2.4V415.6h-2.4z"/><path class="w" d="M494.4 414.2V416.6"/><path class="g" d="M493.2 415h2.4V416h-2.4z"/><path class="w" d="M496.5 412.9V429.5"/><path class="r" d="M495.3 415h2.4V426.5h-2.4z"/><path class="w" d="M498.6 423.2V434.6"/><path class="g" d="M497.4 423.7h2.4V426.5h-2.4z"/><path class="w" d="M500.7 413.5V424"/><path class="g" d="M499.5 416.8h2.4V423.7h-2.4z"/><path class="w" d="M502.8 416V420.3"/><path class="r" d="M501.6 416.8h2.4V417.8h-2.4z"/><path class="w" d="M504.9 414.6V429"/><path class="r" d="M503.7 417.5h2.4V426.5h-2.4z"/><path class="w" d="M507 419.3V426.8"/><path class="g" d="M505.8 422.2h2.4V426.5h-2.4z"/><path class="w" d="M509.2 413.3V423.4"/><path class="g" d="M508 413.7h2.4V422.2h-2.4z"/><path class="w" d="M511.3 411.8V420.6"/><path class="r" d="M510.1 413.7h2.4V417.4h-2.4z"/><path class="w" d="M513.4 415.2V425"/><path class="r" d="M512.2 417.4h2.4V420.6h-2.4z"/><path class="w" d="M515.5 415.3V420.7"/><path class="g" d="M514.3 416h2.4V420.6h-2.4z"/><path class="w" d="M517.6 413.6V420.4"/><path class="r" d="M516.4 416h2.4V418.7h-2.4z"/><path class="w" d="M519.7 415.3V420.6"/><path class="g" d="M518.5 416.5h2.4V418.7h-2.4z"/><path class="w" d="M521.8 412.7V432.7"/><path class="r" d="M520.6 416.5h2.4V431.2h-2.4z"/><path class="w" d="M524 417.6V432"/><path class="g" d="M522.8 419.6h2.4V431.2h-2.4z"/><path class="w" d="M526.1 410.8V424.2"/><path class="g" d="M524.9 410.9h2.4V419.6h-2.4z"/><path class="w" d="M528.2 409.7V423.7"/><path class="r" d="M527 410.9h2.4V423h-2.4z"/><path class="w" d="M530.3 416.8V429.8"/><path class="g" d="M529.1 419.3h2.4V423h-2.4z"/><path class="w" d="M532.4 417V427.8"/><path class="r" d="M531.2 419.3h2.4V424.1h-2.4z"/><path class="w" d="M534.5 422.3V427.1"/><path class="r" d="M533.3 424.1h2.4V425.6h-2.4z"/><path class="w" d="M536.6 424.1V440.9"/><path class="r" d="M535.4 425.6h2.4V434.7h-2.4z"/><path class="w" d="M538.8 431.8V439.4"/><path class="g" d="M537.6 433.4h2.4V434.7h-2.4z"/><path class="w" d="M540.9 427.8V434.6"/><path class="g" d="M539.7 432.5h2.4V433.5h-2.4z"/><path class="w" d="M543 432.2V435.5"/><path class="r" d="M541.8 432.5h2.4V434.3h-2.4z"/><path class="w" d="M545.1 426.7V434.4"/><path class="g" d="M543.9 431.5h2.4V434.3h-2.4z"/><path class="w" d="M547.2 423.8V432.3"/><path class="g" d="M546 427.6h2.4V431.5h-2.4z"/><path class="w" d="M549.3 372.3V434.2"/><path class="g" d="M548.1 390.8h2.4V427.6h-2.4z"/><path class="w" d="M551.5 390.7V395.1"/><path class="r" d="M550.3 390.8h2.4V393.8h-2.4z"/><path class="w" d="M553.6 387.6V394.6"/><path class="g" d="M552.4 389.6h2.4V393.8h-2.4z"/><path class="w" d="M555.7 386.5V392.7"/><path class="g" d="M554.5 386.8h2.4V389.6h-2.4z"/><path class="w" d="M557.8 383.7V388.6"/><path class="r" d="M556.6 386.8h2.4V388.6h-2.4z"/><path class="w" d="M559.9 364.8V389.9"/><path class="g" d="M558.7 371.4h2.4V388.6h-2.4z"/><path class="w" d="M562 369.3V392.9"/><path class="r" d="M560.8 371.4h2.4V390.2h-2.4z"/><path class="w" d="M564.1 382.9V392.2"/><path class="g" d="M562.9 383.1h2.4V390.2h-2.4z"/><path class="w" d="M566.3 380.8V389.6"/><path class="r" d="M565.1 383.1h2.4V386h-2.4z"/><path class="w" d="M568.4 383.7V391.6"/><path class="r" d="M567.2 386h2.4V390.4h-2.4z"/><path class="w" d="M570.5 376.3V392.6"/><path class="g" d="M569.3 382h2.4V390.4h-2.4z"/><path class="w" d="M572.6 380.5V388.1"/><path class="r" d="M571.4 382h2.4V384.1h-2.4z"/><path class="w" d="M574.7 384V385.9"/><path class="r" d="M573.5 384.1h2.4V385.5h-2.4z"/><path class="w" d="M576.8 381.2V391.6"/><path class="r" d="M575.6 385.5h2.4V387.2h-2.4z"/><path class="w" d="M579 386.2V394.7"/><path class="r" d="M577.8 387.2h2.4V388.5h-2.4z"/><path class="w" d="M581.1 381.3V389.7"/><path class="g" d="M579.9 381.7h2.4V388.5h-2.4z"/><path class="w" d="M583.2 378.9V385.8"/><path class="g" d="M582 379.1h2.4V381.7h-2.4z"/><path class="w" d="M585.3 377.2V379.4"/><path class="g" d="M584.1 377.4h2.4V379.1h-2.4z"/><path class="w" d="M587.4 373.8V391.6"/><path class="r" d="M586.2 377.4h2.4V391.1h-2.4z"/><path class="w" d="M589.5 387.9V391.9"/><path class="g" d="M588.3 388.4h2.4V391.1h-2.4z"/><path class="w" d="M591.6 383.8V389.1"/><path class="g" d="M590.4 383.8h2.4V388.4h-2.4z"/><path class="w" d="M593.8 371V388.9"/><path class="g" d="M592.6 373.6h2.4V383.8h-2.4z"/><path class="w" d="M595.9 372V377.7"/><path class="r" d="M594.7 373.6h2.4V374.6h-2.4z"/><path class="w" d="M598 371.2V392.8"/><path class="r" d="M596.8 374.3h2.4V392.5h-2.4z"/><path class="w" d="M600.1 381V394.6"/><path class="g" d="M598.9 385.2h2.4V392.5h-2.4z"/><path class="w" d="M602.2 383.5V393.4"/><path class="r" d="M601 385.2h2.4V390.9h-2.4z"/><path class="w" d="M604.3 382V397.3"/><path class="r" d="M603.1 390.9h2.4V395.7h-2.4z"/><path class="w" d="M606.4 391V410.9"/><path class="r" d="M605.2 395.7h2.4V402.5h-2.4z"/><path class="w" d="M608.6 393.5V407.6"/><path class="g" d="M607.4 395.6h2.4V402.5h-2.4z"/><path class="w" d="M610.7 388.6V399.7"/><path class="g" d="M609.5 390h2.4V395.6h-2.4z"/><path class="w" d="M612.8 385.7V393"/><path class="g" d="M611.6 387.6h2.4V390h-2.4z"/><path class="w" d="M614.9 386.8V404.3"/><path class="r" d="M613.7 387.6h2.4V403h-2.4z"/><path class="w" d="M617 399.4V406.5"/><path class="g" d="M615.8 401.5h2.4V403h-2.4z"/><path class="w" d="M619.1 395.5V402.2"/><path class="g" d="M617.9 396.2h2.4V401.5h-2.4z"/><path class="w" d="M621.2 391.9V407.8"/><path class="r" d="M620 396.2h2.4V404.7h-2.4z"/><path class="w" d="M623.4 388.7V406.9"/><path class="g" d="M622.2 393.1h2.4V404.7h-2.4z"/><path class="w" d="M625.5 390.7V394.8"/><path class="r" d="M624.3 393.1h2.4V394.1h-2.4z"/><path class="w" d="M627.6 387.7V394.2"/><path class="g" d="M626.4 393.1h2.4V394.1h-2.4z"/><path class="w" d="M629.7 387.6V398.1"/><path class="g" d="M628.5 388h2.4V393.1h-2.4z"/><path class="w" d="M631.8 384.6V390.3"/><path class="r" d="M630.6 388h2.4V389.8h-2.4z"/><path class="w" d="M633.9 384.9V394.7"/><path class="g" d="M632.7 387.1h2.4V389.8h-2.4z"/><path class="w" d="M636.1 383.3V390.4"/><path class="g" d="M634.9 385.9h2.4V387.1h-2.4z"/><path class="w" d="M638.2 384.6V390.6"/><path class="r" d="M637 385.9h2.4V386.9h-2.4z"/><path class="w" d="M640.3 379.9V391.8"/><path class="r" d="M639.1 386.8h2.4V390h-2.4z"/><path class="w" d="M642.4 387.6V403.8"/><path class="r" d="M641.2 390h2.4V399.1h-2.4z"/><path class="w" d="M644.5 385.1V401"/><path class="g" d="M643.3 385.9h2.4V399.1h-2.4z"/><path class="w" d="M646.6 377.8V388"/><path class="g" d="M645.4 381.7h2.4V385.9h-2.4z"/><path class="w" d="M648.7 370.8V384.3"/><path class="g" d="M647.5 372.1h2.4V381.7h-2.4z"/><path class="w" d="M650.9 367.4V372.9"/><path class="g" d="M649.7 369h2.4V372.1h-2.4z"/><path class="w" d="M653 352.4V371.1"/><path class="g" d="M651.8 353.2h2.4V369h-2.4z"/><path class="w" d="M655.1 345.7V355.1"/><path class="g" d="M653.9 347.6h2.4V353.2h-2.4z"/><path class="w" d="M657.2 334.8V347.8"/><path class="g" d="M656 343.6h2.4V347.6h-2.4z"/><path class="w" d="M659.3 340.5V347.6"/><path class="g" d="M658.1 341.2h2.4V343.6h-2.4z"/><path class="w" d="M661.4 295.7V345.8"/><path class="g" d="M660.2 298.6h2.4V341.2h-2.4z"/><path class="w" d="M663.6 280V300.4"/><path class="g" d="M662.4 288.4h2.4V298.6h-2.4z"/><path class="w" d="M665.7 287.9V290.2"/><path class="r" d="M664.5 288.4h2.4V289.5h-2.4z"/><path class="w" d="M667.8 284.5V297.3"/><path class="r" d="M666.6 289.5h2.4V295.4h-2.4z"/><path class="w" d="M669.9 291.8V295.5"/><path class="g" d="M668.7 294.7h2.4V295.7h-2.4z"/><path class="w" d="M672 291.3V301"/><path class="g" d="M670.8 291.8h2.4V294.7h-2.4z"/><path class="w" d="M674.1 287.5V292.2"/><path class="g" d="M672.9 291h2.4V292h-2.4z"/><path class="w" d="M676.2 289.2V303"/><path class="r" d="M675 291h2.4V300.3h-2.4z"/><path class="w" d="M678.4 296.9V300.8"/><path class="g" d="M677.2 297.9h2.4V300.3h-2.4z"/><path class="w" d="M680.5 288.5V301.3"/><path class="g" d="M679.3 292.6h2.4V297.9h-2.4z"/><path class="w" d="M682.6 287.5V306.1"/><path class="r" d="M681.4 292.6h2.4V300.7h-2.4z"/><path class="w" d="M684.7 296.3V302.5"/><path class="g" d="M683.5 299.1h2.4V300.7h-2.4z"/><path class="w" d="M686.8 295.5V302.6"/><path class="g" d="M685.6 295.8h2.4V299.1h-2.4z"/><path class="w" d="M688.9 291.6V296.6"/><path class="g" d="M687.7 292.3h2.4V295.8h-2.4z"/><path class="w" d="M691 290.9V294.7"/><path class="r" d="M689.8 292.3h2.4V293.6h-2.4z"/><path class="w" d="M693.2 287.4V297.8"/><path class="g" d="M692 288.8h2.4V293.6h-2.4z"/><path class="w" d="M695.3 285V308.1"/><path class="r" d="M694.1 288.8h2.4V303.4h-2.4z"/><path class="w" d="M697.4 296V304.4"/><path class="g" d="M696.2 297.3h2.4V303.4h-2.4z"/><path class="w" d="M699.5 293.1V304.4"/><path class="r" d="M698.3 297.3h2.4V304.2h-2.4z"/><path class="w" d="M701.6 300.9V310.5"/><path class="r" d="M700.4 304.2h2.4V309.6h-2.4z"/><path class="w" d="M703.7 307.1V325.8"/><path class="r" d="M702.5 309.6h2.4V324.5h-2.4z"/><path class="w" d="M705.9 309.3V326.7"/><path class="g" d="M704.6 312.5h2.4V324.5h-2.4z"/><path class="w" d="M708 307.2V320.4"/><path class="r" d="M706.8 312.5h2.4V318.8h-2.4z"/><path class="w" d="M710.1 314.5V320.1"/><path class="r" d="M708.9 318.8h2.4V320.1h-2.4z"/><path class="w" d="M712.2 319V343.1"/><path class="r" d="M711 320.1h2.4V339.1h-2.4z"/><path class="w" d="M714.3 326.3V342.4"/><path class="g" d="M713.1 327.7h2.4V339.1h-2.4z"/><path class="w" d="M716.4 319.3V328.3"/><path class="g" d="M715.2 320h2.4V327.7h-2.4z"/><path class="w" d="M718.5 310V321.2"/><path class="g" d="M717.3 311.3h2.4V320h-2.4z"/><path class="w" d="M720.7 302.9V311.9"/><path class="g" d="M719.5 308.7h2.4V311.3h-2.4z"/><path class="w" d="M722.8 307.2V332.2"/><path class="r" d="M721.6 308.7h2.4V328.4h-2.4z"/><path class="w" d="M724.9 325.6V329.3"/><path class="g" d="M723.7 327.7h2.4V328.7h-2.4z"/><path class="w" d="M727 325.1V328.3"/><path class="g" d="M725.8 326.2h2.4V327.7h-2.4z"/><path class="w" d="M729.1 325V326.7"/><path class="g" d="M727.9 325h2.4V326.2h-2.4z"/><path class="w" d="M731.2 319.7V327.6"/><path class="g" d="M730 322.8h2.4V325h-2.4z"/><path class="w" d="M733.3 316.1V329.3"/><path class="r" d="M732.1 322.8h2.4V326.8h-2.4z"/><path class="w" d="M735.5 322.5V327.6"/><path class="g" d="M734.3 324.8h2.4V326.8h-2.4z"/><path class="w" d="M737.6 319.2V325.4"/><path class="g" d="M736.4 322.2h2.4V324.8h-2.4z"/><path class="w" d="M739.7 321.2V325.6"/><path class="r" d="M738.5 322.2h2.4V325.6h-2.4z"/><path class="w" d="M741.8 318.8V330.7"/><path class="r" d="M740.6 325.6h2.4V328.4h-2.4z"/><path class="w" d="M743.9 326.9V335.6"/><path class="r" d="M742.7 328.4h2.4V332.8h-2.4z"/><path class="w" d="M746 331.6V336.5"/><path class="r" d="M744.8 332.8h2.4V334.2h-2.4z"/><path class="w" d="M748.2 333.3V345"/><path class="r" d="M747 334.2h2.4V341h-2.4z"/><path class="w" d="M750.3 335.4V341.3"/><path class="g" d="M749.1 335.5h2.4V341h-2.4z"/><path class="w" d="M752.4 331.4V337.2"/><path class="r" d="M751.2 335.5h2.4V336.5h-2.4z"/><path class="w" d="M754.5 333.8V351.8"/><path class="r" d="M753.3 336.2h2.4V351.7h-2.4z"/><path class="w" d="M756.6 332V357"/><path class="g" d="M755.4 333.3h2.4V351.7h-2.4z"/><path class="w" d="M758.7 312.4V334.1"/><path class="g" d="M757.5 323.3h2.4V333.3h-2.4z"/><path class="w" d="M760.8 321.9V334.2"/><path class="r" d="M759.6 323.3h2.4V332.2h-2.4z"/><path class="w" d="M763 326.5V335.9"/><path class="r" d="M761.8 332.2h2.4V333.2h-2.4z"/><path class="w" d="M765.1 331.3V350.3"/><path class="r" d="M763.9 333.1h2.4V347.2h-2.4z"/><path class="w" d="M767.2 346.1V353.6"/><path class="r" d="M766 347.2h2.4V351.9h-2.4z"/><path class="w" d="M769.3 346.3V383.4"/><path class="r" d="M768.1 351.9h2.4V382.3h-2.4z"/><path class="w" d="M771.4 379.9V392.5"/><path class="r" d="M770.2 382.3h2.4V390.7h-2.4z"/><path class="w" d="M773.5 385.3V429.3"/><path class="r" d="M772.3 390.7h2.4V423.6h-2.4z"/><path class="w" d="M775.6 420.3V430.1"/><path class="r" d="M774.4 423.6h2.4V429.4h-2.4z"/><path class="w" d="M777.8 429.3V443.1"/><path class="r" d="M776.6 429.4h2.4V435.7h-2.4z"/><path class="w" d="M779.9 423.2V441.9"/><path class="g" d="M778.7 423.8h2.4V435.7h-2.4z"/><path class="w" d="M782 420.9V437"/><path class="r" d="M780.8 423.8h2.4V433.6h-2.4z"/><path class="w" d="M784.1 433.3V437.1"/><path class="r" d="M782.9 433.6h2.4V436.4h-2.4z"/><path class="w" d="M786.2 433.7V442.5"/><path class="r" d="M785 436.4h2.4V438.2h-2.4z"/><path class="w" d="M788.3 436.9V438.9"/><path class="g" d="M787.1 437.2h2.4V438.2h-2.4z"/><path class="w" d="M790.5 433.9V447.1"/><path class="r" d="M789.2 437.2h2.4V443.1h-2.4z"/><path class="w" d="M792.6 431.5V444.8"/><path class="g" d="M791.4 437.2h2.4V443.1h-2.4z"/><path class="w" d="M794.7 428.9V440.8"/><path class="g" d="M793.5 430.9h2.4V437.2h-2.4z"/><path class="w" d="M796.8 418.6V436.2"/><path class="g" d="M795.6 421.7h2.4V430.9h-2.4z"/><path class="w" d="M798.9 416.3V423.4"/><path class="g" d="M797.7 421h2.4V422h-2.4z"/><path class="w" d="M801 420V421.8"/><path class="g" d="M799.8 420.2h2.4V421.2h-2.4z"/><path class="w" d="M803.1 418.1V427"/><path class="r" d="M801.9 420.2h2.4V426.9h-2.4z"/><path class="w" d="M805.3 423V431.2"/><path class="g" d="M804.1 423.1h2.4V426.9h-2.4z"/><path class="w" d="M807.4 421.9V424.3"/><path class="g" d="M806.2 422.2h2.4V423.2h-2.4z"/><path class="w" d="M809.5 402.2V427.7"/><path class="g" d="M808.3 415.4h2.4V422.2h-2.4z"/><path class="w" d="M811.6 413.9V419.5"/><path class="r" d="M810.4 415.4h2.4V416.8h-2.4z"/><path class="w" d="M813.7 415.6V428.7"/><path class="r" d="M812.5 416.8h2.4V423.9h-2.4z"/><path class="w" d="M815.8 423.1V428.6"/><path class="r" d="M814.6 423.9h2.4V427.3h-2.4z"/><path class="w" d="M817.9 426.3V442.1"/><path class="r" d="M816.7 427.3h2.4V429.6h-2.4z"/><path class="w" d="M820.1 407.2V431.4"/><path class="g" d="M818.9 415.6h2.4V429.6h-2.4z"/><path class="w" d="M822.2 414.8V421.5"/><path class="r" d="M821 415.6h2.4V418.4h-2.4z"/><path class="w" d="M824.3 418V423.7"/><path class="r" d="M823.1 418.4h2.4V423.7h-2.4z"/><path class="w" d="M826.4 423V445.3"/><path class="r" d="M825.2 423.7h2.4V444.2h-2.4z"/><path class="w" d="M828.5 438.9V460.9"/><path class="r" d="M827.3 444.2h2.4V450.1h-2.4z"/><path class="w" d="M830.6 447.1V455.9"/><path class="r" d="M829.4 450.1h2.4V451.3h-2.4z"/><path class="w" d="M832.8 450.5V456.5"/><path class="r" d="M831.6 451.3h2.4V453h-2.4z"/><path class="w" d="M834.9 383.5V456.4"/><path class="g" d="M833.7 434.5h2.4V453h-2.4z"/><path class="w" d="M837 433.1V436.4"/><path class="g" d="M835.8 433.3h2.4V434.5h-2.4z"/><path class="w" d="M839.1 428.3V439.8"/><path class="r" d="M837.9 433.3h2.4V435.9h-2.4z"/><path class="w" d="M841.2 432.7V438.8"/><path class="r" d="M840 435.9h2.4V436.9h-2.4z"/><path class="w" d="M843.3 428.1V443.2"/><path class="g" d="M842.1 428.6h2.4V436.7h-2.4z"/><path class="w" d="M845.4 428.6V447.8"/><path class="r" d="M844.2 428.6h2.4V446.2h-2.4z"/><path class="w" d="M847.6 442.6V472.5"/><path class="r" d="M846.4 446.2h2.4V471.6h-2.4z"/><path class="w" d="M849.7 466.6V477.6"/><path class="r" d="M848.5 471.6h2.4V476h-2.4z"/><path class="w" d="M851.8 475.2V491.6"/><path class="r" d="M850.6 476h2.4V490.1h-2.4z"/><path class="w" d="M853.9 486.4V493.4"/><path class="r" d="M852.7 490.1h2.4V493.3h-2.4z"/><path class="w" d="M856 486.7V505.8"/><path class="g" d="M854.8 491.5h2.4V493.3h-2.4z"/><path class="w" d="M858.1 490.7V501.4"/><path class="r" d="M856.9 491.5h2.4V495.4h-2.4z"/><path class="w" d="M860.2 488.8V497.3"/><path class="g" d="M859 488.9h2.4V495.4h-2.4z"/><path class="w" d="M862.4 479.1V489.9"/><path class="g" d="M861.2 483.5h2.4V488.9h-2.4z"/><path class="w" d="M864.5 479.1V485.4"/><path class="g" d="M863.3 480.4h2.4V483.5h-2.4z"/><path class="w" d="M866.6 470.8V481.8"/><path class="g" d="M865.4 474h2.4V480.4h-2.4z"/><path class="w" d="M868.7 455V481.6"/><path class="g" d="M867.5 458h2.4V474h-2.4z"/><path class="w" d="M870.8 456.7V463.5"/><path class="r" d="M869.6 458h2.4V462.1h-2.4z"/><path class="w" d="M872.9 444.7V467.9"/><path class="g" d="M871.7 452.1h2.4V462.1h-2.4z"/><path class="w" d="M875.1 446.8V453.9"/><path class="g" d="M873.9 451.5h2.4V452.5h-2.4z"/><path class="w" d="M877.2 450.5V467"/><path class="r" d="M876 451.5h2.4V465.9h-2.4z"/><path class="w" d="M879.3 463V482.9"/><path class="r" d="M878.1 465.9h2.4V479.9h-2.4z"/><path class="w" d="M881.4 463.7V484.4"/><path class="g" d="M880.2 464.9h2.4V479.9h-2.4z"/><path class="w" d="M883.5 464.9V471"/><path class="r" d="M882.3 464.9h2.4V469.4h-2.4z"/><path class="w" d="M885.6 466.9V490.4"/><path class="r" d="M884.4 469.4h2.4V488.5h-2.4z"/><path class="w" d="M887.7 482V495.5"/><path class="r" d="M886.5 488.5h2.4V492h-2.4z"/><path class="w" d="M889.9 489.8V497.2"/><path class="r" d="M888.7 492h2.4V493.4h-2.4z"/><path class="w" d="M892 487.8V495.3"/><path class="g" d="M890.8 490.8h2.4V493.4h-2.4z"/><path class="w" d="M894.1 487V491.5"/><path class="g" d="M892.9 489.5h2.4V490.8h-2.4z"/><path class="w" d="M896.2 488.5V494.2"/><path class="r" d="M895 489.5h2.4V490.5h-2.4z"/><path class="w" d="M898.3 486.2V495.2"/><path class="g" d="M897.1 489.4h2.4V490.4h-2.4z"/><path class="w" d="M900.4 489.3V493.7"/><path class="r" d="M899.2 489.4h2.4V490.5h-2.4z"/><path class="w" d="M902.5 476.9V492.2"/><path class="g" d="M901.3 479h2.4V490.5h-2.4z"/><path class="w" d="M904.7 478.6V487.9"/><path class="r" d="M903.5 479h2.4V486.7h-2.4z"/><path class="w" d="M906.8 475.6V488.8"/><path class="g" d="M905.6 475.6h2.4V486.7h-2.4z"/><path class="w" d="M908.9 466.3V476.5"/><path class="g" d="M907.7 473.5h2.4V475.6h-2.4z"/><path class="w" d="M911 471.6V477.1"/><path class="r" d="M909.8 473.5h2.4V474.5h-2.4z"/><path class="w" d="M913.1 469.2V479.7"/><path class="g" d="M911.9 472.5h2.4V474.4h-2.4z"/><path class="w" d="M915.2 470.6V483.1"/><path class="r" d="M914 472.5h2.4V481.1h-2.4z"/><path class="w" d="M917.4 477.8V489"/><path class="r" d="M916.1 481.1h2.4V487.1h-2.4z"/><path class="w" d="M919.5 480.1V493.9"/><path class="r" d="M918.3 487.1h2.4V493.3h-2.4z"/><path class="w" d="M921.6 479.1V494.8"/><path class="g" d="M920.4 483.2h2.4V493.3h-2.4z"/><path class="w" d="M923.7 475.9V503.4"/><path class="r" d="M922.5 483.2h2.4V502.7h-2.4z"/><path class="w" d="M925.8 499.7V510.2"/><path class="r" d="M924.6 502.7h2.4V507.1h-2.4z"/><path class="w" d="M927.9 499.6V510.8"/><path class="g" d="M926.7 500.9h2.4V507.1h-2.4z"/><path class="w" d="M930 483.9V508.6"/><path class="g" d="M928.8 486.8h2.4V500.9h-2.4z"/><path class="w" d="M932.2 479.1V489.1"/><path class="r" d="M931 486.8h2.4V488.8h-2.4z"/><path class="w" d="M934.3 467.4V489.8"/><path class="g" d="M933.1 467.8h2.4V488.8h-2.4z"/><path class="w" d="M936.4 446.5V469.7"/><path class="g" d="M935.2 447.1h2.4V467.8h-2.4z"/><path class="w" d="M938.5 442.4V450.6"/><path class="g" d="M937.3 446.1h2.4V447.1h-2.4z"/><path class="w" d="M940.6 444.7V462.5"/><path class="r" d="M939.4 446.1h2.4V459.4h-2.4z"/><path class="w" d="M942.7 454.4V463.4"/><path class="g" d="M941.5 458.1h2.4V459.4h-2.4z"/><path class="w" d="M944.8 443.5V462.7"/><path class="g" d="M943.6 450h2.4V458.1h-2.4z"/><path class="w" d="M947 447.1V458.4"/><path class="r" d="M945.8 450h2.4V458.3h-2.4z"/><path class="w" d="M949.1 458.3V462.3"/><path class="r" d="M947.9 458.3h2.4V462.1h-2.4z"/><path class="w" d="M951.2 457.1V462.2"/><path class="g" d="M950 459.5h2.4V462.1h-2.4z"/><path class="w" d="M953.3 456.4V461.3"/><path class="r" d="M952.1 459.5h2.4V460.9h-2.4z"/><path class="w" d="M955.4 454.1V465.4"/><path class="g" d="M954.2 457.4h2.4V460.9h-2.4z"/><path class="w" d="M957.5 456.8V464.9"/><path class="r" d="M956.3 457.4h2.4V464.1h-2.4z"/><path class="w" d="M959.7 451.3V464.5"/><path class="g" d="M958.5 457.1h2.4V464.1h-2.4z"/><path class="w" d="M961.8 427.1V460.8"/><path class="g" d="M960.6 429.2h2.4V457.1h-2.4z"/><path class="w" d="M963.9 426.3V433.4"/><path class="g" d="M962.7 426.4h2.4V429.2h-2.4z"/><path class="w" d="M966 421.8V427.8"/><path class="g" d="M964.8 421.8h2.4V426.4h-2.4z"/><path class="w" d="M968.1 418.6V422.3"/><path class="g" d="M966.9 420.3h2.4V421.8h-2.4z"/><path class="w" d="M970.2 415.1V425.6"/><path class="g" d="M969 418.8h2.4V420.3h-2.4z"/><path class="w" d="M972.3 417V426.9"/><path class="r" d="M971.1 418.8h2.4V423.7h-2.4z"/><path class="w" d="M974.5 422.8V439.8"/><path class="r" d="M973.3 423.7h2.4V427.6h-2.4z"/><path class="w" d="M976.6 413.1V428.6"/><path class="g" d="M975.4 416.3h2.4V427.6h-2.4z"/><path class="w" d="M978.7 399.2V419.8"/><path class="g" d="M977.5 400.5h2.4V416.3h-2.4z"/><path class="w" d="M980.8 396.1V400.7"/><path class="g" d="M979.6 399.3h2.4V400.5h-2.4z"/><path class="w" d="M982.9 397.1V415.8"/><path class="r" d="M981.7 399.3h2.4V413.1h-2.4z"/><path class="w" d="M985 411.9V425.6"/><path class="r" d="M983.8 413.1h2.4V423.4h-2.4z"/><path class="w" d="M987.1 397.1V423.5"/><path class="g" d="M985.9 400.9h2.4V423.4h-2.4z"/><path class="w" d="M989.3 400.6V406"/><path class="r" d="M988.1 400.9h2.4V401.9h-2.4z"/><path class="w" d="M991.4 383.9V404.4"/><path class="g" d="M990.2 385.5h2.4V401.9h-2.4z"/><path class="w" d="M993.5 380V389.3"/><path class="g" d="M992.3 383.7h2.4V385.5h-2.4z"/><path class="w" d="M995.6 383.2V399.9"/><path class="r" d="M994.4 383.7h2.4V399.3h-2.4z"/><path class="w" d="M997.7 383.2V401.8"/><path class="g" d="M996.5 386.1h2.4V399.3h-2.4z"/><path class="w" d="M999.8 375.9V386.5"/><path class="g" d="M998.6 379.5h2.4V386.1h-2.4z"/><path class="w" d="M1002 370.7V384.2"/><path class="g" d="M1000.8 371.3h2.4V379.5h-2.4z"/><path class="w" d="M1004.1 369.4V379.7"/><path class="r" d="M1002.9 371.3h2.4V377.8h-2.4z"/><path class="w" d="M1006.2 375.6V385.4"/><path class="r" d="M1005 377.8h2.4V379.2h-2.4z"/><path class="w" d="M1008.3 374.8V381.8"/><path class="g" d="M1007.1 375.4h2.4V379.2h-2.4z"/><path class="w" d="M1010.4 374.4V378.1"/><path class="r" d="M1009.2 375.4h2.4V377.4h-2.4z"/><path class="w" d="M1012.5 374.7V388.5"/><path class="r" d="M1011.3 377.4h2.4V388.4h-2.4z"/><path class="w" d="M1014.6 387.8V396.1"/><path class="r" d="M1013.4 388.4h2.4V394.9h-2.4z"/><path class="w" d="M1016.8 392.7V395"/><path class="g" d="M1015.6 394.2h2.4V395.2h-2.4z"/><path class="w" d="M1018.9 379.8V399.8"/><path class="g" d="M1017.7 384.3h2.4V394.2h-2.4z"/><path class="w" d="M1021 375.7V396"/><path class="r" d="M1019.8 384.3h2.4V390.7h-2.4z"/><path class="w" d="M1023.1 381.5V394"/><path class="g" d="M1021.9 383.8h2.4V390.7h-2.4z"/><path class="w" d="M1025.2 382.6V388"/><path class="r" d="M1024 383.8h2.4V387.1h-2.4z"/><path class="w" d="M1027.3 374.9V393.1"/><path class="r" d="M1026.1 387.1h2.4V388.1h-2.4z"/><path class="w" d="M1029.4 383.2V390.3"/><path class="g" d="M1028.2 386.7h2.4V388.1h-2.4z"/><path class="w" d="M1031.6 383.9V405"/><path class="r" d="M1030.4 386.7h2.4V403.7h-2.4z"/><path class="w" d="M1033.7 398.8V405.6"/><path class="g" d="M1032.5 399.7h2.4V403.7h-2.4z"/><path class="w" d="M1035.8 390.1V399.8"/><path class="g" d="M1034.6 393h2.4V399.7h-2.4z"/><path class="w" d="M1037.9 391.6V393.8"/><path class="g" d="M1036.7 392h2.4V393h-2.4z"/><path class="w" d="M1040 385.4V394.4"/><path class="r" d="M1038.8 392h2.4V393h-2.4z"/><path class="w" d="M1042.1 366.7V397.5"/><path class="g" d="M1040.9 369h2.4V392.7h-2.4z"/><path class="w" d="M1044.3 345V372.6"/><path class="r" d="M1043.1 369h2.4V371.6h-2.4z"/><path class="w" d="M1046.4 352.2V374.5"/><path class="g" d="M1045.2 353.6h2.4V371.6h-2.4z"/><path class="w" d="M1048.5 344.2V357.2"/><path class="g" d="M1047.3 349.6h2.4V353.6h-2.4z"/><path class="w" d="M1050.6 348.1V375.8"/><path class="r" d="M1049.4 349.6h2.4V375.4h-2.4z"/><path class="w" d="M1052.7 371.7V382"/><path class="r" d="M1051.5 375.4h2.4V379.2h-2.4z"/><path class="w" d="M1054.8 358.9V379.4"/><path class="g" d="M1053.6 361.9h2.4V379.2h-2.4z"/><path class="w" d="M1056.9 352.7V365.2"/><path class="g" d="M1055.7 356.5h2.4V361.9h-2.4z"/><path class="w" d="M1059.1 355.3V360.5"/><path class="r" d="M1057.9 356.5h2.4V359.8h-2.4z"/><path class="w" d="M1061.2 356.8V360.1"/><path class="g" d="M1060 358.4h2.4V359.8h-2.4z"/><path class="w" d="M1063.3 353.5V366.1"/><path class="g" d="M1062.1 357.8h2.4V358.8h-2.4z"/><path class="w" d="M1065.4 356.1V367.9"/><path class="r" d="M1064.2 357.8h2.4V365.4h-2.4z"/><path class="w" d="M1067.5 364.8V397.1"/><path class="r" d="M1066.3 365.4h2.4V393.2h-2.4z"/><path class="w" d="M1069.6 387.9V395.8"/><path class="g" d="M1068.4 389.4h2.4V393.2h-2.4z"/><path class="w" d="M1071.7 388.2V394"/><path class="g" d="M1070.5 388.3h2.4V389.4h-2.4z"/><path class="w" d="M1073.9 384.3V390.3"/><path class="r" d="M1072.7 388.3h2.4V389.5h-2.4z"/><path class="w" d="M1076 382.9V390.4"/><path class="g" d="M1074.8 385h2.4V389.5h-2.4z"/><path class="w" d="M1078.1 383.2V388.3"/><path class="g" d="M1076.9 384.3h2.4V385.3h-2.4z"/><path class="w" d="M1080.2 382.1V399.5"/><path class="r" d="M1079 384.3h2.4V397.5h-2.4z"/><path class="w" d="M1082.3 386.8V403"/><path class="g" d="M1081.1 390.6h2.4V397.5h-2.4z"/><path class="w" d="M1084.4 355V392.2"/><path class="g" d="M1083.2 368.1h2.4V390.6h-2.4z"/><path class="w" d="M1086.6 366.6V372.1"/><path class="r" d="M1085.4 368.1h2.4V370.4h-2.4z"/><path class="w" d="M1088.7 368.9V376.6"/><path class="r" d="M1087.5 370.4h2.4V376.3h-2.4z"/><path class="w" d="M1090.8 375.8V385.4"/><path class="r" d="M1089.6 376.3h2.4V384.3h-2.4z"/><path class="w" d="M1092.9 383.7V408.6"/><path class="r" d="M1091.7 384.3h2.4V396.2h-2.4z"/><path class="w" d="M1095 381.3V397.4"/><path class="g" d="M1093.8 386.3h2.4V396.2h-2.4z"/><path class="w" d="M1097.1 373.8V389.3"/><path class="g" d="M1095.9 376.9h2.4V386.3h-2.4z"/><path class="w" d="M1099.2 367.8V380.2"/><path class="g" d="M1098 371.6h2.4V376.9h-2.4z"/><path class="w" d="M1101.4 352.9V371.8"/><path class="g" d="M1100.2 354.6h2.4V371.6h-2.4z"/><path class="w" d="M1103.5 351.2V357.6"/><path class="r" d="M1102.3 354.6h2.4V355.6h-2.4z"/><path class="w" d="M1105.6 342.2V357.3"/><path class="g" d="M1104.4 344.4h2.4V355.4h-2.4z"/><path class="w" d="M1107.7 332.6V348.8"/><path class="g" d="M1106.5 334.8h2.4V344.4h-2.4z"/><path class="w" d="M1109.8 331.7V337"/><path class="g" d="M1108.6 332.7h2.4V334.8h-2.4z"/><path class="w" d="M1111.9 327.1V335.3"/><path class="r" d="M1110.7 332.7h2.4V334.8h-2.4z"/><path class="w" d="M1114 328.6V336.4"/><path class="g" d="M1112.8 329h2.4V334.8h-2.4z"/><path class="w" d="M1116.2 323V339.8"/><path class="r" d="M1115 329h2.4V334.9h-2.4z"/><path class="w" d="M1118.3 333.8V341.2"/><path class="r" d="M1117.1 334.9h2.4V337.6h-2.4z"/><path class="w" d="M1120.4 330.2V341.3"/><path class="g" d="M1119.2 333.7h2.4V337.6h-2.4z"/><path class="w" d="M1122.5 330.8V342.2"/><path class="r" d="M1121.3 333.7h2.4V341.9h-2.4z"/><path class="w" d="M1124.6 337.2V348.9"/><path class="r" d="M1123.4 341.9h2.4V346.3h-2.4z"/><path class="w" d="M1126.7 343.5V349.4"/><path class="r" d="M1125.5 346.3h2.4V348.3h-2.4z"/><path class="w" d="M1128.9 338.7V348.7"/><path class="g" d="M1127.7 345.3h2.4V348.3h-2.4z"/><path class="w" d="M1131 342.5V348.9"/><path class="r" d="M1129.8 345.3h2.4V346.4h-2.4z"/><path class="w" d="M1133.1 344.9V352"/><path class="g" d="M1131.9 345.6h2.4V346.6h-2.4z"/><path class="w" d="M1135.2 342.8V359.7"/><path class="r" d="M1134 345.6h2.4V357.3h-2.4z"/><path class="w" d="M1137.3 335.2V358"/><path class="g" d="M1136.1 335.8h2.4V357.3h-2.4z"/><path class="w" d="M1139.4 333.8V340.9"/><path class="r" d="M1138.2 335.8h2.4V336.8h-2.4z"/><path class="w" d="M1141.5 324.6V339.6"/><path class="g" d="M1140.3 327.6h2.4V336.6h-2.4z"/><path class="w" d="M1143.7 319.8V329.2"/><path class="g" d="M1142.5 326.7h2.4V327.7h-2.4z"/><path class="w" d="M1145.8 324.6V364.1"/><path class="r" d="M1144.6 326.7h2.4V362.9h-2.4z"/><path class="w" d="M1147.9 362.6V364.2"/><path class="r" d="M1146.7 362.9h2.4V363.9h-2.4z"/><path class="w" d="M1150 345.4V374.6"/><path class="g" d="M1148.8 349.4h2.4V363.5h-2.4z"/><path class="w" d="M1152.1 346.7V367.9"/><path class="r" d="M1150.9 349.4h2.4V365.1h-2.4z"/><path class="w" d="M1154.2 362.9V367.2"/><path class="g" d="M1153 364h2.4V365.1h-2.4z"/><path class="w" d="M1156.3 361.3V367.4"/><path class="r" d="M1155.1 364h2.4V365.5h-2.4z"/><path class="w" d="M1158.5 359.9V369.4"/><path class="g" d="M1157.3 362.1h2.4V365.5h-2.4z"/><path class="w" d="M1160.6 357V373.2"/><path class="r" d="M1159.4 362.1h2.4V364.9h-2.4z"/><path class="w" d="M1162.7 363.3V367.2"/><path class="g" d="M1161.5 363.8h2.4V364.9h-2.4z"/><path class="w" d="M1164.8 355.4V365.9"/><path class="g" d="M1163.6 361.6h2.4V363.8h-2.4z"/><path class="w" d="M1166.9 360V364.7"/><path class="r" d="M1165.7 361.6h2.4V363.5h-2.4z"/><path class="w" d="M1169 356.5V364.1"/><path class="g" d="M1167.8 358.7h2.4V363.5h-2.4z"/><path class="w" d="M1171.2 357V366.2"/><path class="r" d="M1170 358.7h2.4V361.9h-2.4z"/><path class="w" d="M1173.3 359.4V382.1"/><path class="r" d="M1172.1 361.9h2.4V379.2h-2.4z"/><path class="w" d="M1175.4 365.8V381.3"/><path class="g" d="M1174.2 372.4h2.4V379.2h-2.4z"/><path class="w" d="M1177.5 353.6V373"/><path class="g" d="M1176.3 355.9h2.4V372.4h-2.4z"/><path class="w" d="M1179.6 347.3V360.6"/><path class="g" d="M1178.4 352.4h2.4V355.9h-2.4z"/><path class="w" d="M1181.7 347.4V355"/><path class="r" d="M1180.5 352.4h2.4V353.5h-2.4z"/><path class="w" d="M1183.8 343.8V354.5"/><path class="g" d="M1182.6 348h2.4V353.5h-2.4z"/><path class="w" d="M1186 336.6V352"/><path class="g" d="M1184.8 339.7h2.4V348h-2.4z"/><path class="w" d="M1188.1 332.2V342.4"/><path class="r" d="M1186.9 339.7h2.4V341.2h-2.4z"/><path class="w" d="M1190.2 341.2V352.5"/><path class="r" d="M1189 341.2h2.4V351.1h-2.4z"/><path class="w" d="M1192.3 349V370.4"/><path class="r" d="M1191.1 351.1h2.4V368h-2.4z"/><path class="w" d="M1194.4 364.6V374.2"/><path class="g" d="M1193.2 367h2.4V368h-2.4z"/><path class="w" d="M1196.5 347.3V371.5"/><path class="g" d="M1195.3 349.4h2.4V367h-2.4z"/><path class="w" d="M1198.6 344.3V354.1"/><path class="g" d="M1197.4 347.4h2.4V349.4h-2.4z"/><path class="w" d="M1200.8 345.4V364.5"/><path class="r" d="M1199.6 347.4h2.4V361h-2.4z"/><path class="w" d="M1202.9 347.2V393.3"/><path class="g" d="M1201.7 348.5h2.4V361h-2.4z"/><path class="w" d="M1205 310.7V349.7"/><path class="g" d="M1203.8 312h2.4V348.5h-2.4z"/><path class="w" d="M1207.1 283.6V312.5"/><path class="g" d="M1205.9 297.4h2.4V312h-2.4z"/><path class="w" d="M1209.2 285.9V299.2"/><path class="g" d="M1208 287.4h2.4V297.4h-2.4z"/><path class="w" d="M1211.3 287.2V299.9"/><path class="r" d="M1210.1 287.4h2.4V298h-2.4z"/><path class="w" d="M1213.5 293.2V299.6"/><path class="g" d="M1212.3 295.1h2.4V298h-2.4z"/><path class="w" d="M1215.6 291.8V296.2"/><path class="g" d="M1214.4 293.8h2.4V295.1h-2.4z"/><path class="w" d="M1217.7 293.2V299"/><path class="r" d="M1216.5 293.8h2.4V297.5h-2.4z"/><path class="w" d="M1219.8 297.4V306.9"/><path class="r" d="M1218.6 297.5h2.4V305.4h-2.4z"/><path class="w" d="M1221.9 298.9V307.5"/><path class="g" d="M1220.7 299.8h2.4V305.4h-2.4z"/><path class="w" d="M1224 296.2V308.5"/><path class="r" d="M1222.8 299.8h2.4V304.6h-2.4z"/><path class="w" d="M1226.1 295.6V305.4"/><path class="g" d="M1224.9 297.3h2.4V304.6h-2.4z"/><path class="w" d="M1228.3 292.8V305.3"/><path class="g" d="M1227.1 293.1h2.4V297.3h-2.4z"/><path class="w" d="M1230.4 289.3V293.2"/><path class="g" d="M1229.2 290.3h2.4V293.1h-2.4z"/><path class="w" d="M1232.5 279.5V292.3"/><path class="g" d="M1231.3 281.9h2.4V290.3h-2.4z"/><path class="w" d="M1234.6 274.9V283.6"/><path class="g" d="M1233.4 279.7h2.4V281.9h-2.4z"/><path class="w" d="M1236.7 272.4V282.2"/><path class="g" d="M1235.5 276h2.4V279.7h-2.4z"/><path class="w" d="M1238.8 275.2V281"/><path class="g" d="M1237.6 275.4h2.4V276.4h-2.4z"/><path class="w" d="M1240.9 273V281.4"/><path class="r" d="M1239.7 275.4h2.4V280.5h-2.4z"/><path class="w" d="M1243.1 279.9V284.2"/><path class="r" d="M1241.9 280.5h2.4V282.1h-2.4z"/><path class="w" d="M1245.2 279.7V293"/><path class="r" d="M1244 282.1h2.4V287.8h-2.4z"/><path class="w" d="M1247.3 282.5V289.6"/><path class="g" d="M1246.1 282.8h2.4V287.8h-2.4z"/><path class="w" d="M1249.4 279.8V294.9"/><path class="r" d="M1248.2 282.8h2.4V289.4h-2.4z"/><path class="w" d="M1251.5 283.5V292.9"/><path class="g" d="M1250.3 288.6h2.4V289.6h-2.4z"/><path class="w" d="M1253.6 287.1V293.6"/><path class="r" d="M1252.4 288.6h2.4V290h-2.4z"/><path class="w" d="M1255.8 287.6V290.3"/><path class="g" d="M1254.6 288.7h2.4V290h-2.4z"/><path class="w" d="M1257.9 286.2V290.7"/><path class="g" d="M1256.7 287.6h2.4V288.7h-2.4z"/><path class="w" d="M1260 282V314.8"/><path class="r" d="M1258.8 287.6h2.4V309.3h-2.4z"/><path class="w" d="M1262.1 289.1V310.9"/><path class="g" d="M1260.9 289.2h2.4V309.3h-2.4z"/><path class="w" d="M1264.2 286.2V297.3"/><path class="g" d="M1263 288.2h2.4V289.2h-2.4z"/><path class="w" d="M1266.3 283.6V297.1"/><path class="r" d="M1265.1 288.2h2.4V296.1h-2.4z"/><path class="w" d="M1268.4 288.9V300.4"/><path class="g" d="M1267.2 291.6h2.4V296.1h-2.4z"/><path class="w" d="M1270.6 290.4V295.8"/><path class="r" d="M1269.4 291.6h2.4V295.6h-2.4z"/><path class="w" d="M1272.7 280.1V298.8"/><path class="g" d="M1271.5 281.8h2.4V295.6h-2.4z"/><path class="w" d="M1274.8 279.1V287.8"/><path class="g" d="M1273.6 280.2h2.4V281.8h-2.4z"/><path class="w" d="M1276.9 277.3V289.4"/><path class="r" d="M1275.7 280.2h2.4V289h-2.4z"/><path class="w" d="M1279 288.6V293.6"/><path class="r" d="M1277.8 289h2.4V290.3h-2.4z"/><path class="w" d="M1281.1 289.5V297"/><path class="r" d="M1279.9 290.3h2.4V295.5h-2.4z"/><path class="w" d="M1283.2 294.1V296.8"/><path class="g" d="M1282 294.7h2.4V295.7h-2.4z"/><path class="w" d="M1285.4 288.6V299.1"/><path class="g" d="M1284.2 294.1h2.4V295.1h-2.4z"/><path class="w" d="M1287.5 284.9V299.8"/><path class="g" d="M1286.3 285.3h2.4V294.1h-2.4z"/><path class="w" d="M1289.6 272.8V285.5"/><path class="g" d="M1288.4 275.3h2.4V285.3h-2.4z"/><path class="w" d="M1291.7 256.6V276.4"/><path class="g" d="M1290.5 257.3h2.4V275.3h-2.4z"/><path class="w" d="M1293.8 255.2V264.2"/><path class="r" d="M1292.6 257.3h2.4V260.3h-2.4z"/><path class="w" d="M1295.9 241.4V261.7"/><path class="g" d="M1294.7 241.5h2.4V260.3h-2.4z"/><path class="w" d="M1298.1 237.2V247.2"/><path class="r" d="M1296.9 241.5h2.4V245.1h-2.4z"/><path class="w" d="M1300.2 241.6V249.5"/><path class="g" d="M1299 242.2h2.4V245.1h-2.4z"/><path class="w" d="M1302.3 241.5V245.7"/><path class="r" d="M1301.1 242.2h2.4V245.1h-2.4z"/><path class="w" d="M1304.4 242.1V257.1"/><path class="r" d="M1303.2 245.1h2.4V253.6h-2.4z"/><path class="w" d="M1306.5 247.6V261.4"/><path class="g" d="M1305.3 249.9h2.4V253.6h-2.4z"/><path class="w" d="M1308.6 231.7V250.9"/><path class="g" d="M1307.4 234.4h2.4V249.9h-2.4z"/><path class="w" d="M1310.7 209.5V235.6"/><path class="g" d="M1309.5 222h2.4V234.4h-2.4z"/><path class="w" d="M1312.9 221.5V224.3"/><path class="r" d="M1311.7 222h2.4V223.5h-2.4z"/><path class="w" d="M1315 222.6V251.7"/><path class="r" d="M1313.8 223.5h2.4V249.7h-2.4z"/><path class="w" d="M1317.1 245.9V284"/><path class="r" d="M1315.9 249.7h2.4V282h-2.4z"/><path class="w" d="M1319.2 279.2V292.3"/><path class="r" d="M1318 282h2.4V286.4h-2.4z"/><path class="w" d="M1321.3 276V286.5"/><path class="g" d="M1320.1 276.6h2.4V286.4h-2.4z"/><path class="w" d="M1323.4 269.4V277.8"/><path class="g" d="M1322.2 275.5h2.4V276.6h-2.4z"/><path class="w" d="M1325.5 261.2V279.5"/><path class="g" d="M1324.3 264.8h2.4V275.5h-2.4z"/><path class="w" d="M1327.7 260.7V279.4"/><path class="r" d="M1326.5 264.8h2.4V275.2h-2.4z"/><path class="w" d="M1329.8 274.7V280.9"/><path class="r" d="M1328.6 275.2h2.4V276.4h-2.4z"/><path class="w" d="M1331.9 268.5V280.2"/><path class="g" d="M1330.7 272.2h2.4V276.4h-2.4z"/><path class="w" d="M1334 270.4V275.8"/><path class="g" d="M1332.8 270.4h2.4V272.2h-2.4z"/><path class="w" d="M1336.1 263.2V271"/><path class="g" d="M1334.9 266.2h2.4V270.4h-2.4z"/><path class="w" d="M1338.2 265.3V273.3"/><path class="r" d="M1337 266.2h2.4V272h-2.4z"/><path class="w" d="M1340.4 267.8V283.7"/><path class="r" d="M1339.2 272h2.4V281.3h-2.4z"/><path class="w" d="M1342.5 277.7V285.5"/><path class="r" d="M1341.3 281.3h2.4V284.8h-2.4z"/><path class="w" d="M1344.6 280.2V286.5"/><path class="g" d="M1343.4 281.4h2.4V284.8h-2.4z"/><path class="w" d="M1346.7 279.4V284.4"/><path class="r" d="M1345.5 281.4h2.4V283h-2.4z"/><path class="w" d="M1348.8 281.7V294.8"/><path class="r" d="M1347.6 283h2.4V288.6h-2.4z"/><path class="w" d="M1350.9 270V297.3"/><path class="g" d="M1349.7 273h2.4V288.6h-2.4z"/><path class="w" d="M1353 271.4V276.1"/><path class="r" d="M1351.8 273h2.4V275.2h-2.4z"/><path class="w" d="M1355.2 271.3V278.6"/><path class="r" d="M1354 275.2h2.4V277.4h-2.4z"/><path class="w" d="M1357.3 262.2V277.5"/><path class="g" d="M1356.1 262.7h2.4V277.4h-2.4z"/><path class="w" d="M1359.4 256.5V262.9"/><path class="g" d="M1358.2 259.4h2.4V262.7h-2.4z"/><path class="w" d="M1361.5 254.5V263"/><path class="g" d="M1360.3 254.8h2.4V259.4h-2.4z"/><path class="w" d="M1363.6 254.5V268.9"/><path class="r" d="M1362.4 254.8h2.4V265.1h-2.4z"/><path class="w" d="M1365.7 226.2V267.6"/><path class="g" d="M1364.5 226.3h2.4V265.1h-2.4z"/><path class="w" d="M1367.8 209.4V228"/><path class="g" d="M1366.6 209.7h2.4V226.3h-2.4z"/><path class="w" d="M1370 199.3V210.7"/><path class="g" d="M1368.8 201.8h2.4V209.7h-2.4z"/><path class="w" d="M1372.1 196.2V203.9"/><path class="g" d="M1370.9 198.6h2.4V201.8h-2.4z"/><path class="w" d="M1374.2 197.2V208.4"/><path class="r" d="M1373 198.6h2.4V207.2h-2.4z"/><path class="w" d="M1376.3 207.1V216.3"/><path class="r" d="M1375.1 207.2h2.4V214.6h-2.4z"/><path class="w" d="M1378.4 208.1V216.5"/><path class="g" d="M1377.2 210.4h2.4V214.6h-2.4z"/><path class="w" d="M1380.5 207.2V220.4"/><path class="r" d="M1379.3 210.4h2.4V215.8h-2.4z"/><path class="w" d="M1382.7 215.3V223.1"/><path class="r" d="M1381.5 215.8h2.4V222.9h-2.4z"/><path class="w" d="M1384.8 215.1V223.7"/><path class="g" d="M1383.6 220.3h2.4V222.9h-2.4z"/><path class="w" d="M1386.9 212.9V222.8"/><path class="g" d="M1385.7 219.3h2.4V220.3h-2.4z"/><path class="w" d="M1389 214.4V220.2"/><path class="g" d="M1387.8 218.2h2.4V219.3h-2.4z"/><path class="w" d="M1391.1 211.7V221.1"/><path class="g" d="M1389.9 214.3h2.4V218.2h-2.4z"/><path class="w" d="M1393.2 211.9V217.9"/><path class="r" d="M1392 214.3h2.4V215.7h-2.4z"/><path class="w" d="M1395.3 214.4V218.8"/><path class="r" d="M1394.1 215.7h2.4V218h-2.4z"/><path class="w" d="M1397.5 215.2V226.8"/><path class="r" d="M1396.3 218h2.4V225.7h-2.4z"/><path class="w" d="M1399.6 221V227.9"/><path class="r" d="M1398.4 225.7h2.4V226.7h-2.4z"/><path class="w" d="M1401.7 225.7V235.3"/><path class="r" d="M1400.5 226.7h2.4V232.2h-2.4z"/><path class="w" d="M1403.8 213.9V233.4"/><path class="g" d="M1402.6 215.4h2.4V232.2h-2.4z"/><path class="w" d="M1405.9 206.1V216.2"/><path class="g" d="M1404.7 210.1h2.4V215.4h-2.4z"/><path class="w" d="M1408 207.4V212.2"/><path class="r" d="M1406.8 210.1h2.4V211.6h-2.4z"/><path class="w" d="M1410.1 210.6V218"/><path class="g" d="M1408.9 210.9h2.4V211.9h-2.4z"/><path class="w" d="M1412.3 201V212.5"/><path class="g" d="M1411.1 204.5h2.4V210.9h-2.4z"/><path class="w" d="M1414.4 196V206.7"/><path class="g" d="M1413.2 201.2h2.4V204.5h-2.4z"/><path class="w" d="M1416.5 195.2V202"/><path class="g" d="M1415.3 198.3h2.4V201.2h-2.4z"/><path class="w" d="M1418.6 196.9V225.9"/><path class="r" d="M1417.4 198.3h2.4V211h-2.4z"/><path class="w" d="M1420.7 193.9V211.4"/><path class="g" d="M1419.5 193.9h2.4V211h-2.4z"/><path class="w" d="M1422.8 174.1V194"/><path class="g" d="M1421.6 178.4h2.4V193.9h-2.4z"/><path class="w" d="M1425 176.1V181.6"/><path class="g" d="M1423.8 176.9h2.4V178.4h-2.4z"/><path class="w" d="M1427.1 169.8V201.9"/><path class="r" d="M1425.9 176.9h2.4V194.9h-2.4z"/><path class="w" d="M1429.2 169.7V195.6"/><path class="g" d="M1428 172.8h2.4V194.9h-2.4z"/><path class="w" d="M1431.3 162V180.4"/><path class="g" d="M1430.1 165.5h2.4V172.8h-2.4z"/><path class="w" d="M1433.4 162.3V171.6"/><path class="r" d="M1432.2 165.5h2.4V166.7h-2.4z"/><path class="w" d="M1435.5 160.4V168.5"/><path class="r" d="M1434.3 166.7h2.4V168.1h-2.4z"/><path class="w" d="M1437.6 163.4V169"/><path class="g" d="M1436.4 164.3h2.4V168.1h-2.4z"/><path class="w" d="M1439.8 162.3V168.1"/><path class="r" d="M1438.6 164.3h2.4V168h-2.4z"/><path class="w" d="M1441.9 162.9V170.2"/><path class="g" d="M1440.7 166.7h2.4V168h-2.4z"/><path class="w" d="M1444 165.2V166.7"/><path class="g" d="M1442.8 165.4h2.4V166.7h-2.4z"/><path class="w" d="M1446.1 149.6V168.1"/><path class="g" d="M1444.9 153.3h2.4V165.4h-2.4z"/><path class="w" d="M1448.2 151.4V153.6"/><path class="g" d="M1447 151.8h2.4V153.3h-2.4z"/><path class="w" d="M1450.3 151.5V159.7"/><path class="r" d="M1449.1 151.8h2.4V159.3h-2.4z"/><path class="w" d="M1452.4 152V163.9"/><path class="g" d="M1451.2 156.4h2.4V159.3h-2.4z"/><path class="w" d="M1454.6 156.3V160.5"/><path class="r" d="M1453.4 156.4h2.4V159.2h-2.4z"/><path class="w" d="M1456.7 157V166.6"/><path class="r" d="M1455.5 159.2h2.4V163.8h-2.4z"/><path class="w" d="M1458.8 159.5V170.2"/><path class="g" d="M1457.6 159.6h2.4V163.8h-2.4z"/><path class="w" d="M1460.9 156.2V167.5"/><path class="r" d="M1459.7 159.6h2.4V167.3h-2.4z"/><path class="w" d="M1463 162V170"/><path class="g" d="M1461.8 164.3h2.4V167.3h-2.4z"/><path class="w" d="M1465.1 162.8V173"/><path class="r" d="M1463.9 164.3h2.4V172.2h-2.4z"/><path class="w" d="M1467.3 169.8V177.2"/><path class="r" d="M1466.1 172.2h2.4V173.2h-2.4z"/><path class="w" d="M1469.4 169.3V174"/><path class="g" d="M1468.2 172.1h2.4V173.1h-2.4z"/><path class="w" d="M1471.5 108.7V178.7"/><path class="g" d="M1470.3 170.8h2.4V172.1h-2.4z"/><path class="w" d="M1473.6 134.6V172.3"/><path class="g" d="M1472.4 138.5h2.4V170.8h-2.4z"/><path class="w" d="M1475.7 137.6V146.5"/><path class="r" d="M1474.5 138.5h2.4V141.1h-2.4z"/><path class="w" d="M1477.8 138.6V158.6"/><path class="r" d="M1476.6 141.1h2.4V152.7h-2.4z"/><path class="w" d="M1479.9 150.4V161.6"/><path class="r" d="M1478.7 152.7h2.4V154.3h-2.4z"/><path class="w" d="M1482.1 141.1V157.2"/><path class="g" d="M1480.9 141.2h2.4V154.3h-2.4z"/><path class="w" d="M1484.2 127.4V143.4"/><path class="g" d="M1483 132.3h2.4V141.2h-2.4z"/><path class="w" d="M1486.3 127V133.8"/><path class="r" d="M1485.1 132.3h2.4V133.3h-2.4z"/><path class="w" d="M1488.4 131.4V157.4"/><path class="r" d="M1487.2 133.3h2.4V156.1h-2.4z"/><path class="w" d="M1490.5 153.7V160.8"/><path class="r" d="M1489.3 156.1h2.4V160.4h-2.4z"/><path class="w" d="M1492.6 156.3V163.3"/><path class="g" d="M1491.4 156.9h2.4V160.4h-2.4z"/><path class="w" d="M1494.7 147.5V157.5"/><path class="g" d="M1493.5 148.4h2.4V156.9h-2.4z"/><path class="w" d="M1496.9 144.5V152.1"/><path class="r" d="M1495.7 148.4h2.4V149.6h-2.4z"/><path class="w" d="M1499 147.8V162.1"/><path class="r" d="M1497.8 149.6h2.4V159.4h-2.4z"/><path class="w" d="M1501.1 158.7V161.8"/><path class="r" d="M1499.9 159.4h2.4V161.1h-2.4z"/><path class="w" d="M1503.2 159.7V169.1"/><path class="r" d="M1502 161.1h2.4V167.7h-2.4z"/><path class="w" d="M1505.3 166.2V178.6"/><path class="r" d="M1504.1 167.7h2.4V175.4h-2.4z"/><path class="w" d="M1507.4 173.8V177.6"/><path class="g" d="M1506.2 174.4h2.4V175.4h-2.4z"/><path class="w" d="M1509.6 169V177.9"/><path class="g" d="M1508.4 170.6h2.4V174.4h-2.4z"/><path class="w" d="M1511.7 167.7V170.9"/><path class="g" d="M1510.5 169.7h2.4V170.7h-2.4z"/><path class="w" d="M1513.8 166.2V195.7"/><path class="r" d="M1512.6 169.7h2.4V185.8h-2.4z"/><path class="w" d="M1515.9 179.5V187.7"/><path class="g" d="M1514.7 182.2h2.4V185.8h-2.4z"/><path class="w" d="M1518 181.9V194.8"/><path class="r" d="M1516.8 182.2h2.4V191.1h-2.4z"/><path class="w" d="M1520.1 180.8V194.7"/><path class="g" d="M1518.9 184.3h2.4V191.1h-2.4z"/><path class="w" d="M1522.2 183.1V185.7"/><path class="r" d="M1521 184.3h2.4V185.6h-2.4z"/><path class="w" d="M1524.4 183.7V186.4"/><path class="g" d="M1523.2 184.7h2.4V185.7h-2.4z"/><path class="w" d="M1526.5 174.3V186.6"/><path class="g" d="M1525.3 179.5h2.4V184.7h-2.4z"/><path class="w" d="M1528.6 175.8V181.9"/><path class="g" d="M1527.4 178.8h2.4V179.8h-2.4z"/><path class="w" d="M1530.7 176.1V193.5"/><path class="r" d="M1529.5 178.8h2.4V185.2h-2.4z"/><path class="w" d="M1532.8 173.1V187.2"/><path class="g" d="M1531.6 174h2.4V185.2h-2.4z"/><path class="w" d="M1534.9 170.6V176.8"/><path class="r" d="M1533.7 174h2.4V175h-2.4z"/><path class="w" d="M1537 168V178"/><path class="g" d="M1535.8 170.9h2.4V174.9h-2.4z"/><path class="w" d="M1539.2 165.6V176.5"/><path class="r" d="M1538 170.9h2.4V175.3h-2.4z"/><path class="w" d="M1541.3 170.6V177.5"/><path class="r" d="M1540.1 175.3h2.4V176.7h-2.4z"/><path class="w" d="M1543.4 161.7V182"/><path class="g" d="M1542.2 164.8h2.4V176.7h-2.4z"/><path class="w" d="M1545.5 162.7V176.4"/><path class="r" d="M1544.3 164.8h2.4V175h-2.4z"/><path class="w" d="M1547.6 166.8V175.8"/><path class="g" d="M1546.4 170.9h2.4V175h-2.4z"/><path class="w" d="M1549.7 169.8V173.2"/><path class="r" d="M1548.5 170.9h2.4V171.9h-2.4z"/><path class="w" d="M1551.9 153V174"/><path class="g" d="M1550.7 155.8h2.4V171.5h-2.4z"/><path class="w" d="M1554 148.6V157.2"/><path class="g" d="M1552.8 153.8h2.4V155.8h-2.4z"/><path class="w" d="M1556.1 150.5V157.3"/><path class="r" d="M1554.9 153.8h2.4V155.4h-2.4z"/><path class="w" d="M1558.2 152.2V155.9"/><path class="g" d="M1557 153.6h2.4V155.4h-2.4z"/><path class="w" d="M1560.3 149.2V163.7"/><path class="r" d="M1559.1 153.6h2.4V158.7h-2.4z"/><path class="w" d="M1562.4 154.8V167.1"/><path class="r" d="M1561.2 158.7h2.4V164.8h-2.4z"/><path class="w" d="M1564.5 164V183.6"/><path class="r" d="M1563.3 164.8h2.4V172.7h-2.4z"/><path class="w" d="M1566.7 152.4V184.8"/><path class="r" d="M1565.5 172.7h2.4V174.1h-2.4z"/><path class="w" d="M1568.8 157.8V175.2"/><path class="g" d="M1567.6 160.9h2.4V174.1h-2.4z"/><path class="w" d="M1570.9 154.8V185.4"/><path class="r" d="M1569.7 160.9h2.4V181.5h-2.4z"/><path class="w" d="M1573 176.9V183.3"/><path class="g" d="M1571.8 180h2.4V181.5h-2.4z"/><path class="w" d="M1575.1 158.6V183.7"/><path class="g" d="M1573.9 160.7h2.4V180h-2.4z"/><path class="w" d="M1577.2 160.4V187.9"/><path class="r" d="M1576 160.7h2.4V186.9h-2.4z"/><path class="w" d="M1579.3 180.1V204.1"/><path class="r" d="M1578.1 186.9h2.4V203.6h-2.4z"/><path class="w" d="M1581.5 200V226"/><path class="r" d="M1580.3 203.6h2.4V214.8h-2.4z"/><path class="w" d="M1583.6 196.9V217"/><path class="g" d="M1582.4 197.7h2.4V214.8h-2.4z"/><path class="w" d="M1585.7 195.4V213.1"/><path class="r" d="M1584.5 197.7h2.4V210.7h-2.4z"/><path class="w" d="M1587.8 207.4V211.7"/><path class="g" d="M1586.6 207.4h2.4V210.7h-2.4z"/><path class="w" d="M1589.9 204.1V208.2"/><path class="g" d="M1588.7 206.5h2.4V207.5h-2.4z"/><path class="w" d="M1592 203.4V217.9"/><path class="r" d="M1590.8 206.5h2.4V214.4h-2.4z"/><path class="w" d="M1594.2 212.4V222"/><path class="r" d="M1593 214.4h2.4V221.8h-2.4z"/><path class="w" d="M1596.3 218.9V226.1"/><path class="r" d="M1595.1 221.8h2.4V222.8h-2.4z"/><path class="w" d="M1598.4 212.4V224.4"/><path class="g" d="M1597.2 215.9h2.4V222.5h-2.4z"/><path class="w" d="M1600.5 213.4V217"/><path class="g" d="M1599.3 214.5h2.4V215.9h-2.4z"/><path class="w" d="M1602.6 210.4V215.3"/><path class="g" d="M1601.4 213.6h2.4V214.6h-2.4z"/><path class="w" d="M1604.7 203.5V214.4"/><path class="g" d="M1603.5 209.2h2.4V213.6h-2.4z"/><path class="w" d="M1606.8 203.5V210.7"/><path class="r" d="M1605.6 209.2h2.4V210.2h-2.4z"/><path class="w" d="M1609 207.7V215.1"/><path class="r" d="M1607.8 209.8h2.4V213.6h-2.4z"/><path class="w" d="M1611.1 211.9V219.7"/><path class="r" d="M1609.9 213.6h2.4V218h-2.4z"/><path class="w" d="M1613.2 216.8V220.5"/><path class="r" d="M1612 218h2.4V219.1h-2.4z"/><path class="w" d="M1615.3 218.9V224.9"/><path class="r" d="M1614.1 219.1h2.4V220.1h-2.4z"/><path class="w" d="M1617.4 215.8V230.8"/><path class="r" d="M1616.2 219.9h2.4V228.4h-2.4z"/><path class="w" d="M1619.5 227.9V240.1"/><path class="r" d="M1618.3 228.4h2.4V237.4h-2.4z"/><path class="w" d="M1621.6 235.6V253.8"/><path class="r" d="M1620.4 237.4h2.4V253h-2.4z"/><path class="w" d="M1623.8 252.9V264.6"/><path class="r" d="M1622.6 253h2.4V260.8h-2.4z"/><path class="w" d="M1625.9 246.6V268.3"/><path class="g" d="M1624.7 251.4h2.4V260.8h-2.4z"/><path class="w" d="M1628 248.9V251.4"/><path class="g" d="M1626.8 250.8h2.4V251.8h-2.4z"/><path class="w" d="M1630.1 239.7V253"/><path class="r" d="M1628.9 250.8h2.4V251.9h-2.4z"/><path class="w" d="M1632.2 238.4V258.2"/><path class="g" d="M1631 250.3h2.4V251.9h-2.4z"/><path class="w" d="M1634.3 249.7V258.1"/><path class="r" d="M1633.1 250.3h2.4V256.8h-2.4z"/><path class="w" d="M1636.5 254.3V283.4"/><path class="r" d="M1635.3 256.8h2.4V268.2h-2.4z"/><path class="w" d="M1638.6 256V270.5"/><path class="g" d="M1637.4 257.7h2.4V268.2h-2.4z"/><path class="w" d="M1640.7 239.7V262.7"/><path class="g" d="M1639.5 248.5h2.4V257.7h-2.4z"/><path class="w" d="M1642.8 246.4V249.6"/><path class="g" d="M1641.6 246.4h2.4V248.5h-2.4z"/><path class="w" d="M1644.9 239.7V261.3"/><path class="r" d="M1643.7 246.4h2.4V250h-2.4z"/><path class="w" d="M1647 245.4V250.6"/><path class="g" d="M1645.8 246.2h2.4V250h-2.4z"/><path class="w" d="M1649.1 243.1V262.4"/><path class="r" d="M1647.9 246.2h2.4V261.2h-2.4z"/><path class="w" d="M1651.3 251.5V263.7"/><path class="g" d="M1650.1 254.8h2.4V261.2h-2.4z"/><path class="w" d="M1653.4 253.2V260.4"/><path class="r" d="M1652.2 254.8h2.4V257.7h-2.4z"/><path class="w" d="M1655.5 250.9V263.8"/><path class="r" d="M1654.3 257.7h2.4V258.9h-2.4z"/><path class="w" d="M1657.6 253.9V259.5"/><path class="g" d="M1656.4 256.7h2.4V258.9h-2.4z"/><path class="w" d="M1659.7 252.6V266.5"/><path class="r" d="M1658.5 256.7h2.4V265.7h-2.4z"/><path class="w" d="M1661.8 251V266.4"/><path class="g" d="M1660.6 254.1h2.4V265.7h-2.4z"/><path class="w" d="M1663.9 241.8V255.7"/><path class="g" d="M1662.7 246.3h2.4V254.1h-2.4z"/><path class="w" d="M1666.1 245.6V266.2"/><path class="r" d="M1664.9 246.3h2.4V258.7h-2.4z"/><path class="w" d="M1668.2 256.6V270.4"/><path class="r" d="M1667 258.7h2.4V266.1h-2.4z"/><path class="w" d="M1670.3 265.9V270.9"/><path class="r" d="M1669.1 266.1h2.4V267.2h-2.4z"/><path class="w" d="M1672.4 250.6V267.6"/><path class="g" d="M1671.2 253.7h2.4V267.2h-2.4z"/><path class="w" d="M1674.5 229.8V255.4"/><path class="g" d="M1673.3 230.7h2.4V253.7h-2.4z"/><path class="w" d="M1676.6 229.8V233.6"/><path class="r" d="M1675.4 230.7h2.4V232.8h-2.4z"/><path class="w" d="M1678.8 225.9V235"/><path class="g" d="M1677.6 230.4h2.4V232.8h-2.4z"/><path class="w" d="M1680.9 227.5V239.9"/><path class="r" d="M1679.7 230.4h2.4V238.6h-2.4z"/><path class="w" d="M1683 216.7V242.6"/><path class="g" d="M1681.8 219.9h2.4V238.6h-2.4z"/><path class="w" d="M1685.1 215.8V222.3"/><path class="r" d="M1683.9 219.9h2.4V221.4h-2.4z"/><path class="w" d="M1687.2 219.7V273.4"/><path class="r" d="M1686 221.4h2.4V262.6h-2.4z"/><path class="w" d="M1689.3 255.6V278.4"/><path class="g" d="M1688.1 258h2.4V262.6h-2.4z"/><path class="w" d="M1691.4 238.6V259.4"/><path class="g" d="M1690.2 241h2.4V258h-2.4z"/><path class="w" d="M1693.6 238.8V242.4"/><path class="r" d="M1692.4 241h2.4V242h-2.4z"/><path class="w" d="M1695.7 222.3V243.1"/><path class="g" d="M1694.5 232.7h2.4V241.6h-2.4z"/><path class="w" d="M1697.8 231.6V239.6"/><path class="r" d="M1696.6 232.7h2.4V234h-2.4z"/><path class="w" d="M1699.9 232.4V241.6"/><path class="r" d="M1698.7 234h2.4V239.3h-2.4z"/><path class="w" d="M1702 238.8V247.7"/><path class="r" d="M1700.8 239.3h2.4V244.4h-2.4z"/><path class="w" d="M1704.1 243.3V246.2"/><path class="r" d="M1702.9 244.4h2.4V245.6h-2.4z"/><path class="w" d="M1706.2 237.7V248"/><path class="g" d="M1705 243h2.4V245.6h-2.4z"/><path class="w" d="M1708.4 238.2V250"/><path class="r" d="M1707.2 243h2.4V247.6h-2.4z"/><path class="w" d="M1710.5 241.9V250.9"/><path class="r" d="M1709.3 247.6h2.4V250.7h-2.4z"/><path class="w" d="M1712.6 249.3V255.9"/><path class="r" d="M1711.4 250.7h2.4V252.4h-2.4z"/><path class="w" d="M1714.7 231.2V253.5"/><path class="g" d="M1713.5 235.7h2.4V252.4h-2.4z"/><path class="w" d="M1716.8 229.8V236.9"/><path class="g" d="M1715.6 232h2.4V235.7h-2.4z"/><path class="w" d="M1718.9 229.5V242.5"/><path class="r" d="M1717.7 232h2.4V240.9h-2.4z"/><path class="w" d="M1721.1 236V241.7"/><path class="g" d="M1719.9 238.1h2.4V240.9h-2.4z"/><path class="w" d="M1723.2 235.9V247"/><path class="r" d="M1722 238.1h2.4V239.8h-2.4z"/><path class="w" d="M1725.3 218.9V244.1"/><path class="g" d="M1724.1 219.2h2.4V239.8h-2.4z"/><path class="w" d="M1727.4 204V223.9"/><path class="g" d="M1726.2 211.6h2.4V219.2h-2.4z"/><path class="w" d="M1729.5 208.6V212"/><path class="g" d="M1728.3 210h2.4V211.6h-2.4z"/><path class="w" d="M1731.6 206.1V231.8"/><path class="r" d="M1730.4 210h2.4V227.5h-2.4z"/><path class="w" d="M1733.7 222.9V240.1"/><path class="r" d="M1732.5 227.5h2.4V237.8h-2.4z"/><path class="w" d="M1735.9 232.1V241.4"/><path class="g" d="M1734.7 232.3h2.4V237.8h-2.4z"/><path class="w" d="M1738 231.9V249.2"/><path class="r" d="M1736.8 232.3h2.4V243.7h-2.4z"/><path class="w" d="M1740.1 229.4V245.9"/><path class="g" d="M1738.9 231.1h2.4V243.7h-2.4z"/><path class="w" d="M1742.2 226V232.2"/><path class="g" d="M1741 229.6h2.4V231.1h-2.4z"/><path class="w" d="M1744.3 228.5V254.5"/><path class="r" d="M1743.1 229.6h2.4V251.4h-2.4z"/><path class="w" d="M1746.4 248.1V259.7"/><path class="r" d="M1745.2 251.4h2.4V259.2h-2.4z"/><path class="w" d="M1748.5 255V265.8"/><path class="r" d="M1747.3 259.2h2.4V262.3h-2.4z"/><path class="w" d="M1750.7 258.8V267.6"/><path class="r" d="M1749.5 262.3h2.4V266.5h-2.4z"/><path class="w" d="M1752.8 265.2V269.9"/><path class="r" d="M1751.6 266.5h2.4V268.8h-2.4z"/><path class="w" d="M1754.9 263V272.1"/><path class="g" d="M1753.7 265.6h2.4V268.8h-2.4z"/></g>
<path d="M1768 58V720" stroke="#6b6b6b" stroke-width="1.6" fill="none"/>
<path d="M8 563.5H1848" stroke="#4a4a4a" stroke-width="1.2" fill="none"/>
<path d="M8 719.9H1768" stroke="#6b6b6b" stroke-width="1.5" fill="none"/>
<path d="M1768 206.6h5M1768 370.1h5M1768 451.9h5M1768 533.6h5M1768 611.7h5M1768 672.6h5" stroke="#6b6b6b" stroke-width="1.4" fill="none"/>
<text x="1779" y="212.1" font-size="17" fill="#757575" class="ax">1.1850</text>
<text x="1779" y="375.6" font-size="17" fill="#757575" class="ax">1.1750</text>
<text x="1779" y="457.4" font-size="17" fill="#757575" class="ax">1.1700</text>
<text x="1779" y="539.1" font-size="17" fill="#757575" class="ax">1.1650</text>
<text x="1777" y="617.2" font-size="17" fill="#757575" textLength="62.4" lengthAdjust="spacing" class="ax">60.0000</text>
<text x="1777" y="678.1" font-size="17" fill="#757575" textLength="62.4" lengthAdjust="spacing" class="ax">40.0000</text>
<rect x="1767.2" y="111.8" width="70.0" height="26" fill="#ff0000"/>
<path d="M1768.5 124.8h4.5" stroke="#fff" stroke-width="1.2"/>
<text x="1779" y="130.7" font-size="17" fill="#fff" class="ax">1.1900</text>
<rect x="1767.2" y="250.3" width="70.0" height="26.4" fill="#4a6fe3"/>
<path d="M1768.5 263.5h4.5" stroke="#fff" stroke-width="1.2"/>
<text x="1779" y="269.4" font-size="17" fill="#fff" class="ax">1.1815</text>
<rect x="1767.2" y="276.7" width="70.0" height="26.2" fill="#ff0000"/>
<path d="M1768.5 289.8h4.5" stroke="#fff" stroke-width="1.2"/>
<text x="1779" y="295.7" font-size="17" fill="#fff" class="ax">1.1800</text>
<rect x="1767.2" y="488.1" width="70.0" height="25.9" fill="#ff0000"/>
<path d="M1768.5 501.05h4.5" stroke="#fff" stroke-width="1.2"/>
<text x="1779" y="506.95" font-size="17" fill="#fff" class="ax">1.1670</text>
<rect x="1767.2" y="641.5" width="80.0" height="26.2" fill="#800080"/>
<path d="M1768.5 654.6h4.5" stroke="#fff" stroke-width="1.2"/>
<text x="1777" y="661.2" font-size="17" fill="#fff" textLength="62.4" lengthAdjust="spacing" class="ax">45.5247</text>
<path d="M135 719.5v5M287.2 719.5v5M405.8 719.5v5M557.4 719.5v5M676 719.5v5M829 719.5v5M948 719.5v5M1100.6 719.5v5M1320.5 719.5v5M1479.2 719.5v5M1638 719.5v5M1764.6 719.5v5" stroke="#6b6b6b" stroke-width="1.4" fill="none"/>
<text x="135" y="742.6" font-size="17" font-weight="bold" fill="#4d4d4d" text-anchor="middle" class="ax">8月</text>
<text x="287.2" y="742.6" font-size="17" fill="#6a6a6a" text-anchor="middle" class="ax">5</text>
<text x="405.8" y="742.6" font-size="17" fill="#6a6a6a" text-anchor="middle" class="ax">9</text>
<text x="557.4" y="742.6" font-size="17" fill="#6a6a6a" text-anchor="middle" class="ax">12</text>
<text x="676" y="742.6" font-size="17" fill="#6a6a6a" text-anchor="middle" class="ax">16</text>
<text x="829" y="742.6" font-size="17" fill="#6a6a6a" text-anchor="middle" class="ax">19</text>
<text x="948" y="742.6" font-size="17" fill="#6a6a6a" text-anchor="middle" class="ax">23</text>
<text x="1100.6" y="742.6" font-size="17" fill="#6a6a6a" text-anchor="middle" class="ax">26</text>
<text x="1320.5" y="742.6" font-size="17" font-weight="bold" fill="#4d4d4d" text-anchor="middle" class="ax">9月</text>
<text x="1479.2" y="742.6" font-size="17" fill="#6a6a6a" text-anchor="middle" class="ax">4</text>
<text x="1638" y="742.6" font-size="17" fill="#6a6a6a" text-anchor="middle" class="ax">9</text>
<clipPath id="c13"><rect x="1740" y="725" width="26.5" height="29"/></clipPath>
<text x="1754.5" y="742.6" font-size="17" fill="#6a6a6a" class="ax" clip-path="url(#c13)">13</text>
<text x="16" y="21.8" font-size="12.6" letter-spacing="0.61" fill="#222" class="ax">Published on Investing.com, 12/Sep/2021 - 3:41:31 GMT, Powered by TradingView.</text>
<text x="15.4" y="45" font-size="13.15" font-weight="bold" fill="#111" class="ax">EUR/USD, リアルタイム外国為替:EUR/USD, 60</text>
<text x="18.7" y="583.8" font-size="13" fill="#111" textLength="44.5" lengthAdjust="spacingAndGlyphs" class="ax">RSI (48)</text>
<text x="24.6" y="542.6" font-size="26.5" font-weight="bold" fill="#000" stroke="#000" stroke-width="1" stroke-linejoin="round" letter-spacing="-0.5" class="ax">Investing</text>
<text x="136.5" y="543" font-size="18.6" fill="#444" letter-spacing="-0.5" class="ax">.com</text>
<rect x="98.6" y="520" width="6.4" height="7.6" fill="#fff"/>
<path d="M99.2 526.9 Q99.0 524.2 101.6 522.2 Q103.6 520.8 104.7 521.0 Q105.0 523.0 104.2 525.2 L103.4 526.9z" fill="#ff9d0a"/>
</svg>
</body></html>
